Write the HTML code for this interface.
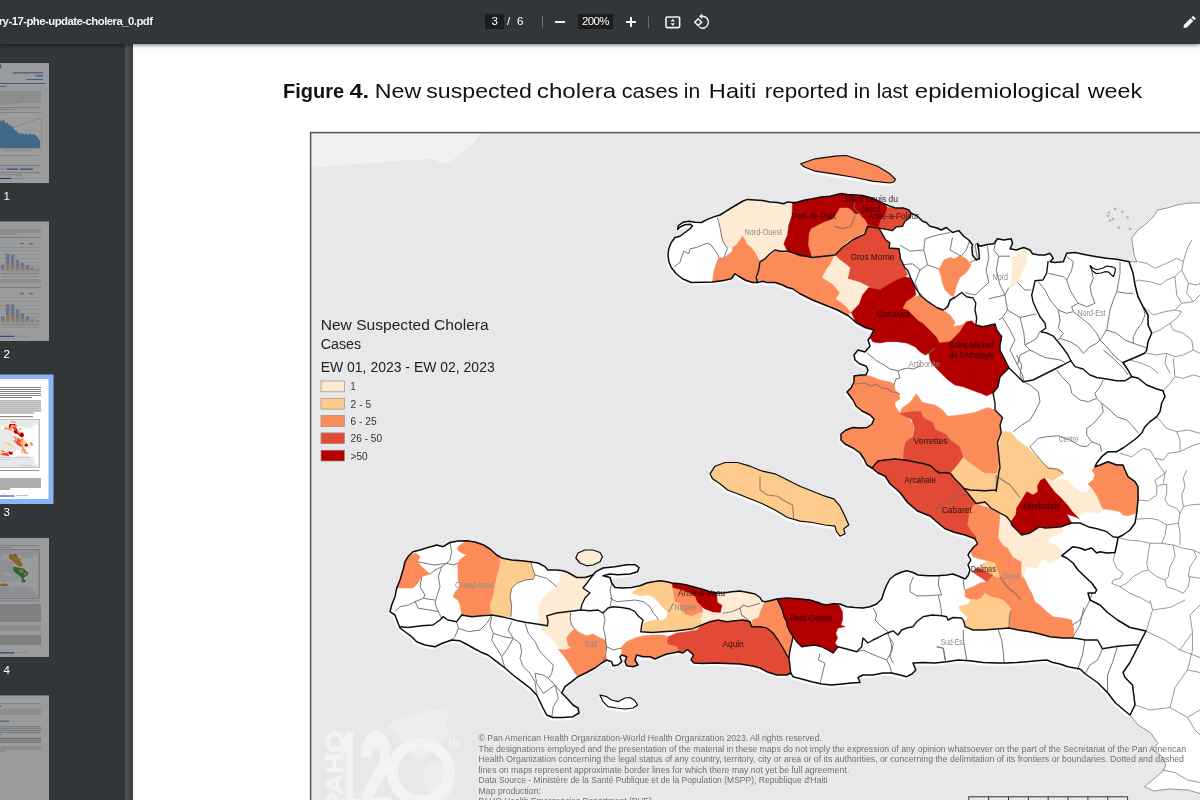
<!DOCTYPE html>
<html lang="en">
<head>
<meta charset="utf-8">
<title>phe-update-cholera_0.pdf</title>
<style>
html,body{margin:0;padding:0;}
body{width:1200px;height:800px;overflow:hidden;position:relative;background:#fff;font-family:"Liberation Sans",sans-serif;}
#content{position:absolute;left:0;top:44px;width:1200px;height:756px;background:#fff;overflow:hidden;}
#sidebar{position:absolute;left:0;top:44px;width:125px;height:756px;background:#323639;overflow:hidden;}
#gutter{position:absolute;left:125px;top:44px;width:8px;height:756px;background:linear-gradient(90deg,#505457 0%,#44484b 60%,#3a3e41 100%);}
#toolbar{position:absolute;left:0;top:0;width:1200px;height:44px;background:#323639;box-shadow:0 1px 4px rgba(0,0,0,.55);color:#fff;z-index:5;}
#toolbar .title{position:absolute;right:1047.5px;top:13px;white-space:nowrap;font-size:11.4px;font-weight:bold;letter-spacing:-0.55px;color:#f1f3f4;line-height:16px;}
.box{position:absolute;background:#1b1d1e;color:#fff;font-size:11.5px;line-height:15px;text-align:center;letter-spacing:-0.6px;}
.tb{position:absolute;color:#fff;font-size:11.5px;line-height:15px;}
.sep{position:absolute;top:16px;width:1px;height:12px;background:#686c6f;}
.thumb{position:absolute;left:0;width:49px;height:120px;background:#fff;overflow:hidden;}
.thumb.dim{opacity:.5}
.tl{position:absolute;left:4px;width:10px;color:#fff;font-size:12px;line-height:14px;}
</style>
</head>
<body>
<div id="content"></div>
<svg width="1200" height="800" viewBox="0 0 1200 800" style="position:absolute;left:0;top:0">
<defs><clipPath id="mc"><rect x="310" y="132" width="900" height="680"/></clipPath><clipPath id="land"><polygon points="668.75,248.75 671.25,242.5 675,237.5 680,236.25 685,232.5 690,228.75 692.5,226 690.5,224.2 685,224.8 680.5,226.8 677.5,229.5 678.5,225.5 683,222.3 689,221.3 695,222.3 701.25,222.5 707.5,219.4 713.75,216.9 720,215 725,211.9 730,208.75 736.25,205 742.5,201.25 747.5,199.4 755,200 762.5,200.6 770,201.9 777.5,202.5 783.75,203.75 787.5,201.9 792.5,202.5 796.2,202.5 805,200 812.5,198.8 821.2,196.9 830,196.2 835,195 841.2,193.5 847.5,194.4 855,195 862.5,195.6 870,197.5 877.5,200.6 883.8,203.8 890,206.2 896.2,208.1 903.8,208.1 908.8,210 911.2,213.1 917.5,216.2 922.5,221.2 926.2,222.5 930,226.2 937,228 941.25,230 946.25,227.5 952.5,232.5 958.75,230.6 963.75,236.25 968.75,240 972.5,245 971.9,247.5 972.5,255 976.25,260 979.4,258.75 978.75,250 977.5,243.75 980,246.25 987.5,244.4 993.75,243.75 997.5,238.75 1003.75,240 1011.25,238.75 1012.5,243.75 1010,248.75 1016.25,250 1023.75,247.5 1030,250 1032.5,253.75 1038.75,255 1045,255 1050,253.3 1053.3,258.3 1050,261.7 1055,262.5 1063.3,261.7 1066.7,253.3 1075,252.5 1086.7,255 1096.7,256.7 1106.7,258.3 1116.7,259.2 1129.2,261.7 1129,261.7 1133,273 1135,285 1138,296.7 1143,306.7 1148,315 1148,325 1151.7,333 1148,341.7 1146.7,350 1145,353 1135,357.5 1123,362.5 1128,370 1131.7,376.7 1138,378 1146.7,385 1156.7,389 1163,390.8 1165,396.7 1161.7,403 1160,411.7 1156.7,416.7 1150,421.7 1145,426.7 1141.7,433 1136.7,438 1130,443 1123,448 1116.7,451.7 1108,451.7 1101.7,456.7 1096.7,463 1095,466.7 1100,465 1108,461.7 1116.7,465 1123,465 1125,470 1128,476.7 1135,481.7 1138,486.7 1138,500 1136.7,513 1135,523 1130,530 1123,535 1118,537.5 1116.7,545 1115,552.5 1106.7,553 1100,551.7 1096.7,553 1091.7,548 1085,550 1080,548 1073,546.7 1066.7,551.7 1061.7,555.8 1066.7,558 1073,563 1078,570 1085,576.7 1091.7,583 1096.7,590 1095,593 1088,593 1090,600 1100,605 1107.5,612.5 1117.5,620 1130,627.5 1146,631 1140,642.5 1135,652.5 1130,662.5 1123,672.5 1125,677.5 1132.5,685 1133.75,695 1135,705 1130,715 1125,711 1115,702.5 1107.5,692.5 1097.5,682.5 1085,673.75 1080,669 1068,666.7 1060,664 1053,662.5 1046.7,660 1036.7,660.8 1026.7,661.7 1016.7,662.5 1006.7,663 996.7,663 983,662.5 970,660.8 958,660 946.7,661.7 935,663 923,662.5 913,663 915.8,670 912,674 906.7,676.7 900,675 891.7,673 883,673 873,675 863,675 858,677.5 860,682.5 851.7,683 841.7,684 831.7,685 821.7,684 811.7,681.7 801.7,679 793,676.7 790.8,673 786.7,675 776.7,675 766.7,671.7 760,668 752.5,666 740,664 727.5,663.5 715,663 702.5,663.5 694,663 691,660 693.5,655 688,650 686.7,650 683,653 678,651.7 673,653 666.7,654 660,656.7 655,659 650,656.7 643,656.7 636.7,655 635,660 638,665 633,666.7 626.7,665.8 625,661.7 626.7,656.7 621.7,655 620,656.7 621.7,661.7 618,665 613,665.8 611.7,661.7 606.7,660 601.7,663 595,668 586.7,672.5 578,676.7 571.7,681.7 565,686.7 561.7,693 566.7,698 573,705 578,708 579,713 573,716.7 563,717.5 553,717.5 546.7,715 543,708 540,701.7 536.7,695 530,688 521.7,681.7 513,675 505,668 496.7,661.7 488,655 480,651.7 475,649 468,645 460,640.8 451.7,640 443,643 435,646.7 425,645 416.7,641.7 411.7,636.7 406.7,633 400,628 398,623 395,615 390,611.7 391.7,605 395,596.7 396.7,588 400,580 403,570 405,561.7 408,556.7 413,551.7 420,550 428,547.5 436.7,545 443,546.7 450,542.5 458,541 466.7,540.8 475,542 483,544.7 490,549 496.7,555 501.7,558 511.7,560 521.7,560.8 530,561.7 538,563 545,566.7 548,570 556.7,570 563,570.8 568,572.5 576.7,577.5 585,577.5 593,575 595.8,571.7 603,568 615,566.7 626.7,564.7 635,564.7 639,567.5 637.5,571.7 630,574 618,574.7 610,574 603,575.8 610,577.5 611.7,583 615,587.5 623,588 631.7,587.5 640,585.8 646.7,583 653,581.7 660,580.8 666.7,581.7 671.7,583 680,583.7 686.7,585 693,586.7 701.7,589 710,591.7 716.7,593 723,593 731.7,591.7 740,591 748,592.5 755,594 760,597.5 762,601 765,601.7 770,600.8 776.7,599 786.7,598 798,598.7 810,600 818,602.5 821.7,604 826.7,605 833,603.7 840,604 846.7,606.7 855,607.5 863,608 870,606.7 876.7,604 881.7,599 884,591.7 886.7,585 890,579 895,575 901.7,572 906.7,570.8 913,572.5 918,575 928,575.8 938,575.8 946.7,575 953,574 960,576.7 965,579 968,575.8 970,570 968,565 970.8,560 968,555 970,551.7 974,546.7 977.5,543.75 975,538.75 965,535 955,532.5 945,528.75 937.5,522.5 930,516 917.5,511 907.5,502.5 900,492.5 890,483.75 885,476 878,473 872,468 867,465 864,459 860,453 853,448 845,444 841,440 841,434 846,430 853,427.5 860,428 867,427.5 872,424 874,419 870,415 862,411 856,406 853,400 850,396 847,392 851,388 854,382 854,376 861,375 866,375 868,370 866,366 860,364 855,360 854,355 858,350 865,352 870,346 868,340 870,337.5 873.75,330 865,327.5 856,322.5 848.75,316 837.5,310 825,305 812.5,300 800,293.75 792.5,288.75 787.5,287.5 782.5,285 775,282.5 767.5,282.5 762.5,281.25 757.5,282.5 752.5,282.5 745,280 738.75,276.25 735,273.75 731.25,278.75 723.75,280.6 712.5,281.9 701.25,282.25 691.25,282.5 682.5,278.75 676.25,273.75 671.25,267.5 668.75,261.25 668,255"/><polygon points="575.8,558 578,553 585,550 593,550 600,552.5 602.5,556.7 600,561.7 593,565 586.7,565.8 580,563"/></clipPath><filter id="halo" x="-5%" y="-5%" width="110%" height="110%"><feGaussianBlur stdDeviation="0.6"/></filter></defs>
<rect x="310" y="132" width="900" height="680" fill="#e8e8eb"/>
<g clip-path="url(#mc)">
<polygon points="310,132 483,132 475,141 466,149.6 457,157 449,162 441,164 437,161 432.5,158.75 395,161 353,164 311,167.5" fill="#f1f1f3"/>
<g filter="url(#halo)" transform="translate(-1.3 2.5)" fill="#fff" stroke="#fff" stroke-width="1" opacity="0.85"><polygon points="668.75,248.75 671.25,242.5 675,237.5 680,236.25 685,232.5 690,228.75 692.5,226 690.5,224.2 685,224.8 680.5,226.8 677.5,229.5 678.5,225.5 683,222.3 689,221.3 695,222.3 701.25,222.5 707.5,219.4 713.75,216.9 720,215 725,211.9 730,208.75 736.25,205 742.5,201.25 747.5,199.4 755,200 762.5,200.6 770,201.9 777.5,202.5 783.75,203.75 787.5,201.9 792.5,202.5 796.2,202.5 805,200 812.5,198.8 821.2,196.9 830,196.2 835,195 841.2,193.5 847.5,194.4 855,195 862.5,195.6 870,197.5 877.5,200.6 883.8,203.8 890,206.2 896.2,208.1 903.8,208.1 908.8,210 911.2,213.1 917.5,216.2 922.5,221.2 926.2,222.5 930,226.2 937,228 941.25,230 946.25,227.5 952.5,232.5 958.75,230.6 963.75,236.25 968.75,240 972.5,245 971.9,247.5 972.5,255 976.25,260 979.4,258.75 978.75,250 977.5,243.75 980,246.25 987.5,244.4 993.75,243.75 997.5,238.75 1003.75,240 1011.25,238.75 1012.5,243.75 1010,248.75 1016.25,250 1023.75,247.5 1030,250 1032.5,253.75 1038.75,255 1045,255 1050,253.3 1053.3,258.3 1050,261.7 1055,262.5 1063.3,261.7 1066.7,253.3 1075,252.5 1086.7,255 1096.7,256.7 1106.7,258.3 1116.7,259.2 1129.2,261.7 1129,261.7 1133,273 1135,285 1138,296.7 1143,306.7 1148,315 1148,325 1151.7,333 1148,341.7 1146.7,350 1145,353 1135,357.5 1123,362.5 1128,370 1131.7,376.7 1138,378 1146.7,385 1156.7,389 1163,390.8 1165,396.7 1161.7,403 1160,411.7 1156.7,416.7 1150,421.7 1145,426.7 1141.7,433 1136.7,438 1130,443 1123,448 1116.7,451.7 1108,451.7 1101.7,456.7 1096.7,463 1095,466.7 1100,465 1108,461.7 1116.7,465 1123,465 1125,470 1128,476.7 1135,481.7 1138,486.7 1138,500 1136.7,513 1135,523 1130,530 1123,535 1118,537.5 1116.7,545 1115,552.5 1106.7,553 1100,551.7 1096.7,553 1091.7,548 1085,550 1080,548 1073,546.7 1066.7,551.7 1061.7,555.8 1066.7,558 1073,563 1078,570 1085,576.7 1091.7,583 1096.7,590 1095,593 1088,593 1090,600 1100,605 1107.5,612.5 1117.5,620 1130,627.5 1146,631 1140,642.5 1135,652.5 1130,662.5 1123,672.5 1125,677.5 1132.5,685 1133.75,695 1135,705 1130,715 1125,711 1115,702.5 1107.5,692.5 1097.5,682.5 1085,673.75 1080,669 1068,666.7 1060,664 1053,662.5 1046.7,660 1036.7,660.8 1026.7,661.7 1016.7,662.5 1006.7,663 996.7,663 983,662.5 970,660.8 958,660 946.7,661.7 935,663 923,662.5 913,663 915.8,670 912,674 906.7,676.7 900,675 891.7,673 883,673 873,675 863,675 858,677.5 860,682.5 851.7,683 841.7,684 831.7,685 821.7,684 811.7,681.7 801.7,679 793,676.7 790.8,673 786.7,675 776.7,675 766.7,671.7 760,668 752.5,666 740,664 727.5,663.5 715,663 702.5,663.5 694,663 691,660 693.5,655 688,650 686.7,650 683,653 678,651.7 673,653 666.7,654 660,656.7 655,659 650,656.7 643,656.7 636.7,655 635,660 638,665 633,666.7 626.7,665.8 625,661.7 626.7,656.7 621.7,655 620,656.7 621.7,661.7 618,665 613,665.8 611.7,661.7 606.7,660 601.7,663 595,668 586.7,672.5 578,676.7 571.7,681.7 565,686.7 561.7,693 566.7,698 573,705 578,708 579,713 573,716.7 563,717.5 553,717.5 546.7,715 543,708 540,701.7 536.7,695 530,688 521.7,681.7 513,675 505,668 496.7,661.7 488,655 480,651.7 475,649 468,645 460,640.8 451.7,640 443,643 435,646.7 425,645 416.7,641.7 411.7,636.7 406.7,633 400,628 398,623 395,615 390,611.7 391.7,605 395,596.7 396.7,588 400,580 403,570 405,561.7 408,556.7 413,551.7 420,550 428,547.5 436.7,545 443,546.7 450,542.5 458,541 466.7,540.8 475,542 483,544.7 490,549 496.7,555 501.7,558 511.7,560 521.7,560.8 530,561.7 538,563 545,566.7 548,570 556.7,570 563,570.8 568,572.5 576.7,577.5 585,577.5 593,575 595.8,571.7 603,568 615,566.7 626.7,564.7 635,564.7 639,567.5 637.5,571.7 630,574 618,574.7 610,574 603,575.8 610,577.5 611.7,583 615,587.5 623,588 631.7,587.5 640,585.8 646.7,583 653,581.7 660,580.8 666.7,581.7 671.7,583 680,583.7 686.7,585 693,586.7 701.7,589 710,591.7 716.7,593 723,593 731.7,591.7 740,591 748,592.5 755,594 760,597.5 762,601 765,601.7 770,600.8 776.7,599 786.7,598 798,598.7 810,600 818,602.5 821.7,604 826.7,605 833,603.7 840,604 846.7,606.7 855,607.5 863,608 870,606.7 876.7,604 881.7,599 884,591.7 886.7,585 890,579 895,575 901.7,572 906.7,570.8 913,572.5 918,575 928,575.8 938,575.8 946.7,575 953,574 960,576.7 965,579 968,575.8 970,570 968,565 970.8,560 968,555 970,551.7 974,546.7 977.5,543.75 975,538.75 965,535 955,532.5 945,528.75 937.5,522.5 930,516 917.5,511 907.5,502.5 900,492.5 890,483.75 885,476 878,473 872,468 867,465 864,459 860,453 853,448 845,444 841,440 841,434 846,430 853,427.5 860,428 867,427.5 872,424 874,419 870,415 862,411 856,406 853,400 850,396 847,392 851,388 854,382 854,376 861,375 866,375 868,370 866,366 860,364 855,360 854,355 858,350 865,352 870,346 868,340 870,337.5 873.75,330 865,327.5 856,322.5 848.75,316 837.5,310 825,305 812.5,300 800,293.75 792.5,288.75 787.5,287.5 782.5,285 775,282.5 767.5,282.5 762.5,281.25 757.5,282.5 752.5,282.5 745,280 738.75,276.25 735,273.75 731.25,278.75 723.75,280.6 712.5,281.9 701.25,282.25 691.25,282.5 682.5,278.75 676.25,273.75 671.25,267.5 668.75,261.25 668,255"/><polygon points="710,473.8 715,466.2 725,462.5 737.5,462.5 750,466.2 762.5,471.2 775,473.8 787.5,480 800,486.2 812.5,491.2 825,496.2 833.8,498.8 840,506.2 845,516.2 848.8,525 843.8,528.8 845,533.8 840,536.2 836.2,531.2 835,526.2 825,525 812.5,522.5 800,521.2 787.5,517.5 775,510 762.5,503.8 750,498.8 737.5,493.8 727.5,490 720,483.8 712.5,478.8"/><polygon points="800.8,163.8 815,158.8 835,156.2 846.2,155.5 860,160 877.5,166.2 890,173.8 895.5,179.5 893.8,182 890,183 872.5,181.2 855,177.5 835,174.2 815,171.2 803.8,166.8"/><polygon points="600,695 606.7,696.7 611.7,700 618,701.7 625,698 630,697.5 635,700.8 637.5,705 633,708 625,709 616.7,708 608,706.7 603,701.7"/></g>
<g id="mapcore">
<g id="landcore">
<polygon points="1129,261.7 1137,262 1134,255 1133,247 1131.7,238 1138,230 1147,223 1153,217 1158,210 1167,208 1177,205 1188,203 1210,203 1210,794 1200,793.5 1187.7,790 1169,789 1153.8,791 1144.5,786.7 1153.8,779 1163,771 1166,765 1161.5,755.8 1152,749.7 1158,743.5 1150.7,732.7 1138,725 1130,715 1135,705 1133.75,695 1132.5,685 1125,677.5 1123,672.5 1130,662.5 1135,652.5 1140,642.5 1146,631 1130,627.5 1117.5,620 1107.5,612.5 1100,605 1090,600 1088,593 1095,593 1096.7,590 1091.7,583 1085,576.7 1078,570 1073,563 1066.7,558 1061.7,555.8 1066.7,551.7 1073,546.7 1080,548 1085,550 1091.7,548 1096.7,553 1100,551.7 1106.7,553 1115,552.5 1116.7,545 1118,537.5 1123,535 1130,530 1135,523 1136.7,513 1138,500 1138,486.7 1135,481.7 1128,476.7 1125,470 1123,465 1116.7,465 1108,461.7 1100,465 1095,466.7 1096.7,463 1101.7,456.7 1108,451.7 1116.7,451.7 1123,448 1130,443 1136.7,438 1141.7,433 1145,426.7 1150,421.7 1156.7,416.7 1160,411.7 1161.7,403 1165,396.7 1163,390.8 1156.7,389 1146.7,385 1138,378 1131.7,376.7 1128,370 1123,362.5 1135,357.5 1145,353 1146.7,350 1148,341.7 1151.7,333 1148,325 1148,315 1143,306.7 1138,296.7 1135,285 1133,273 1129,261.7" fill="#fff" stroke="#8a8a8a" stroke-width="0.9" stroke-linejoin="round"/>
<polygon points="668.75,248.75 671.25,242.5 675,237.5 680,236.25 685,232.5 690,228.75 692.5,226 690.5,224.2 685,224.8 680.5,226.8 677.5,229.5 678.5,225.5 683,222.3 689,221.3 695,222.3 701.25,222.5 707.5,219.4 713.75,216.9 720,215 725,211.9 730,208.75 736.25,205 742.5,201.25 747.5,199.4 755,200 762.5,200.6 770,201.9 777.5,202.5 783.75,203.75 787.5,201.9 792.5,202.5 796.2,202.5 805,200 812.5,198.8 821.2,196.9 830,196.2 835,195 841.2,193.5 847.5,194.4 855,195 862.5,195.6 870,197.5 877.5,200.6 883.8,203.8 890,206.2 896.2,208.1 903.8,208.1 908.8,210 911.2,213.1 917.5,216.2 922.5,221.2 926.2,222.5 930,226.2 937,228 941.25,230 946.25,227.5 952.5,232.5 958.75,230.6 963.75,236.25 968.75,240 972.5,245 971.9,247.5 972.5,255 976.25,260 979.4,258.75 978.75,250 977.5,243.75 980,246.25 987.5,244.4 993.75,243.75 997.5,238.75 1003.75,240 1011.25,238.75 1012.5,243.75 1010,248.75 1016.25,250 1023.75,247.5 1030,250 1032.5,253.75 1038.75,255 1045,255 1050,253.3 1053.3,258.3 1050,261.7 1055,262.5 1063.3,261.7 1066.7,253.3 1075,252.5 1086.7,255 1096.7,256.7 1106.7,258.3 1116.7,259.2 1129.2,261.7 1129,261.7 1133,273 1135,285 1138,296.7 1143,306.7 1148,315 1148,325 1151.7,333 1148,341.7 1146.7,350 1145,353 1135,357.5 1123,362.5 1128,370 1131.7,376.7 1138,378 1146.7,385 1156.7,389 1163,390.8 1165,396.7 1161.7,403 1160,411.7 1156.7,416.7 1150,421.7 1145,426.7 1141.7,433 1136.7,438 1130,443 1123,448 1116.7,451.7 1108,451.7 1101.7,456.7 1096.7,463 1095,466.7 1100,465 1108,461.7 1116.7,465 1123,465 1125,470 1128,476.7 1135,481.7 1138,486.7 1138,500 1136.7,513 1135,523 1130,530 1123,535 1118,537.5 1116.7,545 1115,552.5 1106.7,553 1100,551.7 1096.7,553 1091.7,548 1085,550 1080,548 1073,546.7 1066.7,551.7 1061.7,555.8 1066.7,558 1073,563 1078,570 1085,576.7 1091.7,583 1096.7,590 1095,593 1088,593 1090,600 1100,605 1107.5,612.5 1117.5,620 1130,627.5 1146,631 1140,642.5 1135,652.5 1130,662.5 1123,672.5 1125,677.5 1132.5,685 1133.75,695 1135,705 1130,715 1125,711 1115,702.5 1107.5,692.5 1097.5,682.5 1085,673.75 1080,669 1068,666.7 1060,664 1053,662.5 1046.7,660 1036.7,660.8 1026.7,661.7 1016.7,662.5 1006.7,663 996.7,663 983,662.5 970,660.8 958,660 946.7,661.7 935,663 923,662.5 913,663 915.8,670 912,674 906.7,676.7 900,675 891.7,673 883,673 873,675 863,675 858,677.5 860,682.5 851.7,683 841.7,684 831.7,685 821.7,684 811.7,681.7 801.7,679 793,676.7 790.8,673 786.7,675 776.7,675 766.7,671.7 760,668 752.5,666 740,664 727.5,663.5 715,663 702.5,663.5 694,663 691,660 693.5,655 688,650 686.7,650 683,653 678,651.7 673,653 666.7,654 660,656.7 655,659 650,656.7 643,656.7 636.7,655 635,660 638,665 633,666.7 626.7,665.8 625,661.7 626.7,656.7 621.7,655 620,656.7 621.7,661.7 618,665 613,665.8 611.7,661.7 606.7,660 601.7,663 595,668 586.7,672.5 578,676.7 571.7,681.7 565,686.7 561.7,693 566.7,698 573,705 578,708 579,713 573,716.7 563,717.5 553,717.5 546.7,715 543,708 540,701.7 536.7,695 530,688 521.7,681.7 513,675 505,668 496.7,661.7 488,655 480,651.7 475,649 468,645 460,640.8 451.7,640 443,643 435,646.7 425,645 416.7,641.7 411.7,636.7 406.7,633 400,628 398,623 395,615 390,611.7 391.7,605 395,596.7 396.7,588 400,580 403,570 405,561.7 408,556.7 413,551.7 420,550 428,547.5 436.7,545 443,546.7 450,542.5 458,541 466.7,540.8 475,542 483,544.7 490,549 496.7,555 501.7,558 511.7,560 521.7,560.8 530,561.7 538,563 545,566.7 548,570 556.7,570 563,570.8 568,572.5 576.7,577.5 585,577.5 593,575 595.8,571.7 603,568 615,566.7 626.7,564.7 635,564.7 639,567.5 637.5,571.7 630,574 618,574.7 610,574 603,575.8 610,577.5 611.7,583 615,587.5 623,588 631.7,587.5 640,585.8 646.7,583 653,581.7 660,580.8 666.7,581.7 671.7,583 680,583.7 686.7,585 693,586.7 701.7,589 710,591.7 716.7,593 723,593 731.7,591.7 740,591 748,592.5 755,594 760,597.5 762,601 765,601.7 770,600.8 776.7,599 786.7,598 798,598.7 810,600 818,602.5 821.7,604 826.7,605 833,603.7 840,604 846.7,606.7 855,607.5 863,608 870,606.7 876.7,604 881.7,599 884,591.7 886.7,585 890,579 895,575 901.7,572 906.7,570.8 913,572.5 918,575 928,575.8 938,575.8 946.7,575 953,574 960,576.7 965,579 968,575.8 970,570 968,565 970.8,560 968,555 970,551.7 974,546.7 977.5,543.75 975,538.75 965,535 955,532.5 945,528.75 937.5,522.5 930,516 917.5,511 907.5,502.5 900,492.5 890,483.75 885,476 878,473 872,468 867,465 864,459 860,453 853,448 845,444 841,440 841,434 846,430 853,427.5 860,428 867,427.5 872,424 874,419 870,415 862,411 856,406 853,400 850,396 847,392 851,388 854,382 854,376 861,375 866,375 868,370 866,366 860,364 855,360 854,355 858,350 865,352 870,346 868,340 870,337.5 873.75,330 865,327.5 856,322.5 848.75,316 837.5,310 825,305 812.5,300 800,293.75 792.5,288.75 787.5,287.5 782.5,285 775,282.5 767.5,282.5 762.5,281.25 757.5,282.5 752.5,282.5 745,280 738.75,276.25 735,273.75 731.25,278.75 723.75,280.6 712.5,281.9 701.25,282.25 691.25,282.5 682.5,278.75 676.25,273.75 671.25,267.5 668.75,261.25 668,255" fill="#fff"/>
<polygon points="800.8,163.8 815,158.8 835,156.2 846.2,155.5 860,160 877.5,166.2 890,173.8 895.5,179.5 893.8,182 890,183 872.5,181.2 855,177.5 835,174.2 815,171.2 803.8,166.8" fill="#fff"/>
<polygon points="710,473.8 715,466.2 725,462.5 737.5,462.5 750,466.2 762.5,471.2 775,473.8 787.5,480 800,486.2 812.5,491.2 825,496.2 833.8,498.8 840,506.2 845,516.2 848.8,525 843.8,528.8 845,533.8 840,536.2 836.2,531.2 835,526.2 825,525 812.5,522.5 800,521.2 787.5,517.5 775,510 762.5,503.8 750,498.8 737.5,493.8 727.5,490 720,483.8 712.5,478.8" fill="#fff"/>
<polygon points="600,695 606.7,696.7 611.7,700 618,701.7 625,698 630,697.5 635,700.8 637.5,705 633,708 625,709 616.7,708 608,706.7 603,701.7" fill="#fff"/>
<polygon points="575.8,558 578,553 585,550 593,550 600,552.5 602.5,556.7 600,561.7 593,565 586.7,565.8 580,563" fill="#fff"/>
<polygon points="1090,265.5 1093,268.2 1097,269.8 1103,268 1107,266 1112,266.8 1115.5,268.5 1115,272 1113.5,276.5 1111,274.5 1109,272.2 1105,271.7 1101,273 1096,273.6 1093,271.3 1091,268.5" fill="#fff"/>
</g>
<g clip-path="url(#land)">
<polygon points="717.5,218 720,215 725,211.9 730,208.75 736.25,205 742.5,201.25 747.5,199.4 755,200 762.5,200.6 770,201.9 777.5,202.5 783.75,203.75 787.5,201.9 792.5,202.5 792.5,210 790.6,216.25 787.5,223.75 787.5,231.25 786.25,237.5 783.75,242.5 785,247.5 787.5,251.25 780,251.25 775,250 770,253.75 765,258.75 760,261.9 757.5,257.5 755,252.5 751.25,247.5 747.5,245 745,240 742.5,236.25 740,240 736.25,245 732.5,247.5 727.5,248 725,245 722.5,240 721.25,233.75 720,227.5 718.75,222.5" fill="#fdebd3" stroke="#fdebd3" stroke-width="0.5" stroke-linejoin="round"/>
<polygon points="742.5,236.25 745,240 747.5,245 751.25,247.5 755,252.5 757.5,257.5 760,261.9 758.75,267.5 757.5,272.5 756.25,277.5 758.75,280 757.5,284 752.5,284 745,282 738.75,278 735,273.75 731.25,279.5 723.75,282 712.5,282 713.75,271.25 716.25,263.75 718.75,257.5 723.75,258 727.5,255 732.5,251.25 732.5,247.5 736.25,245 740,240" fill="#fb8c59" stroke="#fb8c59" stroke-width="0.5" stroke-linejoin="round"/>
<polygon points="761.2,261.2 767.5,257.5 775,251.2 787.5,252.5 800,256.2 812.5,257.5 835,254.8 832.5,260 830,265 826.2,270 822.5,277.5 832.5,283.8 840,292.5 836.2,298.8 845,305 851.2,312.5 846.2,316.2 830,308.8 810,298.8 795,291.2 780,286.2 767.5,281.2 757.5,280 758.8,270" fill="#fb8c59" stroke="#fb8c59" stroke-width="0.5" stroke-linejoin="round"/>
<polygon points="792.5,202.5 805,199.8 812.5,198.5 821.2,196.6 830,196 835,194.8 841.2,193.2 847.5,194.1 855,194.8 862.5,195.4 870,197.2 877.5,200.4 883.8,203.5 887.5,207.5 886.2,212.5 882.5,217.5 880,222.5 878.8,228.1 873.8,226.9 867.5,225 865,220 861.2,216.2 860,213.8 855,214.4 851.2,210 847.5,208.1 840,208.1 837.5,212.5 835,216.2 831.2,220 825,221.9 818.8,225 812.5,228.8 810,235 810.6,241.2 811.2,245 812.5,257 800,256.2 787.5,251.2 783.8,243.8 787.5,235 788.8,225 792,215" fill="#b20000" stroke="#b20000" stroke-width="0.5" stroke-linejoin="round"/>
<polygon points="887.5,207.5 896.2,208.1 903.8,208.1 908.8,210 911.2,213.1 910,217.5 905,221.2 902.5,226.2 896.2,226.9 892.5,230.6 886.2,229.4 878.8,228.1 880,222.5 882.5,217.5 886.2,212.5" fill="#e24a35" stroke="#e24a35" stroke-width="0.5" stroke-linejoin="round"/>
<polygon points="840,208.1 847.5,208.1 851.2,210 855,214.4 860,213.8 861.2,216.2 865,220 867.5,225 866.2,231.2 857.5,236.2 850,240 845,243.8 835,255 812,257 808.5,245 809.2,233.8 811.2,228.8 818.8,225 825,221.9 831.2,220 835,216.2 837.5,212.5" fill="#fb8c59" stroke="#fb8c59" stroke-width="0.5" stroke-linejoin="round"/>
<polygon points="879.5,228 885.8,240 889.8,242.8 889,248 899,248.8 900.5,258.8 905,268 907.5,275 900,278.8 892.5,285 880,290 870,287.5 860,282.5 847.5,278.8 850,267.5 840,260 835,255 842.5,247.5 852.5,240 865,233.8 867.5,225" fill="#e24a35" stroke="#e24a35" stroke-width="0.5" stroke-linejoin="round"/>
<polygon points="832.5,260 834.5,254.8 840,260 850,267.5 847.5,278.8 860,282.5 870,287.5 868.8,295 862.5,302.5 860,312.5 851.2,312.5 845,305 836.2,298.8 840,292.5 832.5,283.8 822.5,277.5 826.2,270 830,265" fill="#fdebd3" stroke="#fdebd3" stroke-width="0.5" stroke-linejoin="round"/>
<polygon points="870,337.5 873.75,330 865,327.5 856,322.5 851.25,312.5 859.4,304 862.5,295 868.75,287.5 880,290 888,285 896.7,280 905,276.7 910.8,278 915,286.7 915.8,295 906.7,301.7 903,308 908,310 913,315 918,320 923,323 930,330 936.7,336.7 940,343 935,348 929,353 925,355 920,351.7 915,346.7 906.7,343 896.7,341.7 886.7,341.7 880,343 873,342" fill="#b20000" stroke="#b20000" stroke-width="0.5" stroke-linejoin="round"/>
<polygon points="906.7,301.7 915,296.7 920,295 928,301.7 936.7,307.5 943,310 950,315 955,321.7 953,326.7 961.7,325 966.7,321.7 963,326.7 960,331.7 955,336.7 950,341.7 940,343 936.7,336.7 930,330 923,323 918,320 913,315 908,310 903,308" fill="#fb8c59" stroke="#fb8c59" stroke-width="0.5" stroke-linejoin="round"/>
<polygon points="966.7,321.7 971.7,320.8 975.8,325 983,326.7 995,324 996.7,330 1001.7,336.7 1000,345 1000,350 1005,360 1009,368 1000,376.7 998,386.7 993,393 986.7,395.8 980,393 971.7,390 963,386.7 955,385 948,380 943,375 938,370 933,365 930,360 929,353 935,348 940,343 950,341.7 955,336.7 960,331.7 963,326.7" fill="#b20000" stroke="#b20000" stroke-width="0.5" stroke-linejoin="round"/>
<polygon points="938.75,270 943.75,260 950,257.5 955,258.75 960,255.6 966.25,258.75 971.25,265 966.25,272.5 960,277.5 956.25,286.25 953.75,296.25 950,295 945,290 942.5,283 941.25,277" fill="#fb8c59" stroke="#fb8c59" stroke-width="0.5" stroke-linejoin="round"/>
<polygon points="1010,257.5 1020,253.75 1023.75,248.75 1027.5,252.5 1026.25,262.5 1022.5,271.25 1017.5,282.5 1010,288.75 1011.25,281.25 1012.5,270 1012.5,262.5" fill="#fdebd3" stroke="#fdebd3" stroke-width="0.5" stroke-linejoin="round"/>
<polygon points="861,375 870,376 880,380 890,382 894,384 895,390 899,394 900,399 895,402 895,406 899,412 907.5,417.5 913.8,425 912.5,435 905,442.5 902.5,458.8 895,462.5 877.5,465.5 872.5,468 867,465 864,459 860,453 853,448 845,444 841,440 841,434 846,430 853,427.5 860,428 867,427.5 872,424 874,419 870,415 862,411 856,406 853,400 850,396 847,392 851,388 854,382 854,376" fill="#fb8c59" stroke="#fb8c59" stroke-width="0.5" stroke-linejoin="round"/>
<polygon points="916.2,393.8 922.5,402.5 935,405 942.5,410 947.5,416.2 960,415 975,412.5 987.5,407.5 995,410 1002.5,417.5 1000,425 1001.2,432.5 997.5,442.5 998.8,455 1000,467.5 997,474.5 985,474 976,468 970,463.5 963.2,457.8 960,450 950,442.5 940,440 936.2,430 930,422.5 922.5,420 920,412.5 912.5,415 905,413.8 900,412.5 902.5,407.5 910,402.5" fill="#fb8c59" stroke="#fb8c59" stroke-width="0.5" stroke-linejoin="round"/>
<polygon points="899.5,413.5 910,412 920.5,411.25 923.5,418 932.5,422.5 935.5,430 946,434.5 950.5,440.5 959.5,446.5 963.25,457.75 958,464.5 950.5,474.5 940,474.5 929.5,468 917.5,465 902.5,463 904,449.5 905.5,442 913,436 914.5,427 911.5,419.5" fill="#e24a35" stroke="#e24a35" stroke-width="0.5" stroke-linejoin="round"/>
<polygon points="1002.5,431.2 1011.2,432.5 1017.5,440 1027.5,447.5 1035,455 1042.5,462.5 1050,467.5 1060,468.8 1063.8,473.8 1055,478.8 1050,483.8 1046.2,490 1041.2,500 1031.2,502.5 1026.2,510 1020,518.8 1010,520 1000,512.5 988.8,505 980,503.8 974,507 967.5,497.5 962.5,490 956,478.5 950.5,473.5 958,464.5 963.2,457.5 970,463 976,467.5 985,473.5 997,473.5 1000,460 998.8,447.5" fill="#fdcb8b" stroke="#fdcb8b" stroke-width="0.5" stroke-linejoin="round"/>
<polygon points="1040.8,480 1045,478 1050,485 1055,491.7 1061.7,498 1068,505 1073,511.7 1080,519 1075,516.7 1066.7,514 1070,520 1071.7,523 1061.7,526.7 1053,527.5 1045,528 1040,526.7 1030,533 1021.7,535 1011.7,525 1010.8,521.7 1015.8,515 1016.7,508 1021.7,500 1026.7,491.7 1033,495 1038,491.7 1037.5,485.8" fill="#b20000" stroke="#b20000" stroke-width="0.5" stroke-linejoin="round"/>
<polygon points="1055,481.7 1061.7,479 1068,480.8 1073,486.7 1080,491.7 1086.7,492.5 1090.8,488 1096.7,495 1100,503 1103,509 1100,513 1093,512.5 1086.7,511.7 1080,515 1080,519 1073,511.7 1068,505 1061.7,498 1055,491.7 1050,485 1045,478" fill="#fdebd3" stroke="#fdebd3" stroke-width="0.5" stroke-linejoin="round"/>
<polygon points="1095,466.7 1100,465 1108,461.7 1116.7,465 1123,465 1125,470 1128,476.7 1135,481.7 1138,486.7 1138,500 1136.7,513 1128,515.8 1123,515 1120,511.7 1113,510 1103,509 1100,503 1096.7,495 1091.7,488 1088,484 1093,480 1095,475 1092,470" fill="#fb8c59" stroke="#fb8c59" stroke-width="0.5" stroke-linejoin="round"/>
<polygon points="872,468 878,461 885,460 895,459 905,460 915,462 925,464 931,466 936,471 940,473 945,472.5 950.5,473.5 955,479 960,484 964,488.5 970,496 976,503.5 973.8,507.5 968.8,517.5 971.2,525 975,532.5 977.5,537.5 975,539.5 965,535.8 955,533.2 945,529.5 937.5,523.2 930,517 917.5,512 907.5,503.2 900,493.2 890,484.5 880,475.8" fill="#e24a35" stroke="#e24a35" stroke-width="0.5" stroke-linejoin="round"/>
<polygon points="976.7,538 974,546.7 970.8,553 973,556.7 980,559 986.7,560.8 995,563 996.7,570 1000,576.7 996.7,577.5 993,575 990,578 986.7,581.7 980,583 973,586.7 965,590 965,596.7 970,599 976.7,600 981.7,598 985,593 990,596.7 996.7,598 1003,600 1008,605 1011.7,610 1010,613 1009,620 1009,628 1018,630 1030,631.7 1040,634 1050,636.7 1063,638 1073,638 1074,630 1071.7,620 1063,618 1053,616.7 1046.7,611.7 1041.7,606.7 1035,601.7 1031.7,593 1028,586.7 1025,580 1021.7,573 1021.7,561.7 1013,556.7 1008,548 1003,545 1000,538 1002.5,520 1000,512.5 988.8,507.5 975,503.8 970,510 968.8,517.5 967.5,525 972.5,532.5 976.2,536.2" fill="#fb8c59" stroke="#fb8c59" stroke-width="0.5" stroke-linejoin="round"/>
<polygon points="980,565 986.7,561.7 995,563 996.7,570 1000,576.7 996.7,577.5 993,575 988,572.5 983,570" fill="#fdcb8b" stroke="#fdcb8b" stroke-width="0.5" stroke-linejoin="round"/>
<polygon points="972.5,571.7 976.7,568 983,570 988,572.5 993,575 990,578 986.7,581.7 981.7,578 976.7,575" fill="#e24a35" stroke="#e24a35" stroke-width="0.5" stroke-linejoin="round"/>
<polygon points="959,606.7 965,605 970,603 970,599 976.7,600 981.7,598 985,593 990,596.7 996.7,598 1003,600 1008,605 1011.7,610 1010,613 1009,620 1009,628 996.7,629 983,630 973,630 965,626.7 964,621.7 968,618 963,613 960,610" fill="#fdcb8b" stroke="#fdcb8b" stroke-width="0.5" stroke-linejoin="round"/>
<polygon points="1000,520 1000,513 1006.7,516.7 1010.8,521.7 1011.7,525 1021.7,535 1030,533 1040,526.7 1045,528 1053,527.5 1061.7,526.7 1063,531.7 1056.7,535 1050,538 1048,541.7 1055,545 1061.7,550 1063,555 1056.7,560 1050,563 1041.7,558 1040,563 1038,568 1026.7,566.7 1025,573 1023,578 1021.7,573 1021.7,561.7 1013,556.7 1008,548 1003,545 998.5,538" fill="#fdebd3" stroke="#fdebd3" stroke-width="0.5" stroke-linejoin="round"/>
<polygon points="405,561.7 408,556.7 415.8,553 420,556.7 417.5,561.7 421.7,566.7 430,574 421.7,576.7 418,583 413,588 398,588 395,588 398,580 401,570" fill="#fb8c59" stroke="#fb8c59" stroke-width="0.5" stroke-linejoin="round"/>
<polygon points="458,546.7 466.7,540.5 475,541 483,543.7 490,548 496.7,554 500.8,560.8 499,570 496.7,578 495,586.7 493,596.7 490,605 491.7,613 481.7,615.8 471.7,616.7 461.7,615 460,605 458,600 453,596.7 455,591.7 460,586.7 458,580 458,571.7 457.5,563 461.7,558 466.7,555 461.7,553 457.5,550" fill="#fb8c59" stroke="#fb8c59" stroke-width="0.5" stroke-linejoin="round"/>
<polygon points="500.8,560.8 501.7,557 511.7,559.5 521.7,560.3 530.8,561.2 532.5,568 535,575 533,579 525,580 516.7,583 511.7,588 510,596.7 511.7,605 510.8,616.7 501.7,616.7 491.7,615 490,605 493,596.7 495,586.7 496.7,578 499,570" fill="#fdcb8b" stroke="#fdcb8b" stroke-width="0.5" stroke-linejoin="round"/>
<polygon points="563,570.3 568,572 576.7,577 585,577 593,574.5 588,581.7 583,588 590,593 585,598 581.7,605 580.8,609 566.7,611.7 556.7,613 546.7,615.8 548,620.8 547.5,625.8 538.3,624.2 539,617 538.3,608 541.7,600 548,593 556.7,586.7 560,578" fill="#fdebd3" stroke="#fdebd3" stroke-width="0.5" stroke-linejoin="round"/>
<polygon points="540,625 547.5,625.8 548,620.8 546.7,615.8 556.7,613 566.7,611.7 570.8,612.5 570,618 571.7,625 575,629 570,633 566.7,638 568,645 570.8,648 565,650 560,648 555,643 551.7,638 546.7,635 541.7,630" fill="#fdebd3" stroke="#fdebd3" stroke-width="0.5" stroke-linejoin="round"/>
<polygon points="575.8,558 578,553 585,550 593,550 600,552.5 602.5,556.7 600,561.7 593,565 586.7,565.8 580,563" fill="#fdebd3" stroke="#fdebd3" stroke-width="0.5" stroke-linejoin="round"/>
<polygon points="575,629 580,633 586.7,635.8 593,634 600,638 605.8,640 606.7,646.7 605,653 606.7,659 601.7,664 595,669 586.7,673.5 578,677.5 573,670 568,661.7 563,655 558,649 565,650 570.8,648 568,645 566.7,638 570,633" fill="#fb8c59" stroke="#fb8c59" stroke-width="0.5" stroke-linejoin="round"/>
<polygon points="631.7,593 638,588 646.7,583.2 653,581.2 660,580.3 666.7,581.2 671.7,583 673,588 674,595 675,601.7 680,603 681.7,610 685,614 691.7,615.8 698,613 703,611.7 701.7,618 701.7,625 693,628 683,630 675,630.8 663,631 651.7,631.7 641.7,631.7 642.5,625 646.7,621.7 655,620 661.7,620.8 666.7,618 668,611.7 663,608 658,601.7 653,596.7 648,595 640,595.8" fill="#fdcb8b" stroke="#fdcb8b" stroke-width="0.5" stroke-linejoin="round"/>
<polygon points="671.7,582.5 680,583.2 686.7,584.5 693,586.2 701.7,588.5 710,591.2 716.7,592.5 717.5,598 718,602.5 722.5,605 720.8,613 713,612.5 706.7,610 701.7,606.7 696.7,601.7 695,596.7 690,593 683,590.8 676.7,589 673,588" fill="#b20000" stroke="#b20000" stroke-width="0.5" stroke-linejoin="round"/>
<polygon points="673,588 676.7,589 683,590.8 690,593 695,596.7 696.7,601.7 701.7,606.7 703,611.7 698,613 691.7,615.8 685,614 681.7,610 680,603 675,601.7 674,595" fill="#fb8c59" stroke="#fb8c59" stroke-width="0.5" stroke-linejoin="round"/>
<polygon points="716.7,592.5 723,592.5 731.7,591.2 740,590.5 748,592 755,593.5 760,597 762,601 765,602 761,610 758.75,617.5 752.5,620 751.7,626.7 750,621.7 743,620 735,620.8 726.7,621.7 718,620 710,621.7 701.7,625 701.7,618 703,611.7 706.7,610 713,612.5 720.8,613 722.5,605 718,602.5 717.5,598" fill="#fdebd3" stroke="#fdebd3" stroke-width="0.5" stroke-linejoin="round"/>
<polygon points="762,601 765,601.7 770,600.3 777.5,599.5 780,605 782.5,610 784,616.7 786.7,621.7 787.5,626.7 790,631.7 793,636.7 791.7,643 790,650 789,658 786.7,655 783,648 778,640 773,633 766.7,628 760,626.7 751.7,626.7 752.5,620 758.75,617.5 761,610 765,602" fill="#fb8c59" stroke="#fb8c59" stroke-width="0.5" stroke-linejoin="round"/>
<polygon points="668,636.7 676.7,633 686.7,631.7 696.7,630 701.7,625 710,621.7 718,620 726.7,621.7 735,620.8 743,620 750,621.7 751.7,626.7 760,626.7 766.7,628 773,633 778,640 783,648 786.7,655 789,658 790,666.7 790.8,673.5 786.7,675.5 776.7,675.5 766.7,672.2 760,668.5 752.5,666.5 740,664.5 727.5,664 715,663.5 702.5,664 694,663.5 691,660 693.5,655 688,650 686.7,650 683,653 678,651.7 676.7,646.7 668,645 666.7,641.7" fill="#e24a35" stroke="#e24a35" stroke-width="0.5" stroke-linejoin="round"/>
<polygon points="621.7,646.7 626.7,641.7 635,638 643,635.8 653,635 663,635 668,636.7 666.7,641.7 668,645 676.7,646.7 678,651.7 673,653.5 666.7,654.5 660,657.2 655,659.5 650,657.2 643,657.2 636.7,655.5 635,660 638,665.5 633,667.2 626.7,666.3 625,661.7 626.7,656.7 621.7,655" fill="#fb8c59" stroke="#fb8c59" stroke-width="0.5" stroke-linejoin="round"/>
<polygon points="777.5,599.5 786.7,597.5 798,598.2 810,599.5 818,602 821.7,604 826.7,605 833,603.7 839,605 842.5,611.7 842.5,620 840.8,625 845,626.7 838,628 835.8,633 837.5,638 835,643 838,646.7 833,653 828,650 821.7,646.7 815,645 808,645.8 801.7,646.7 796.7,641.7 793,636.7 790,631.7 787.5,626.7 786.7,621.7 784,616.7 782.5,610 780,605" fill="#b20000" stroke="#b20000" stroke-width="0.5" stroke-linejoin="round"/>
</g>
<polygon points="800.8,163.8 815,158.8 835,156.2 846.2,155.5 860,160 877.5,166.2 890,173.8 895.5,179.5 893.8,182 890,183 872.5,181.2 855,177.5 835,174.2 815,171.2 803.8,166.8" fill="#fb8c59"/>
<polygon points="710,473.8 715,466.2 725,462.5 737.5,462.5 750,466.2 762.5,471.2 775,473.8 787.5,480 800,486.2 812.5,491.2 825,496.2 833.8,498.8 840,506.2 845,516.2 848.8,525 843.8,528.8 845,533.8 840,536.2 836.2,531.2 835,526.2 825,525 812.5,522.5 800,521.2 787.5,517.5 775,510 762.5,503.8 750,498.8 737.5,493.8 727.5,490 720,483.8 712.5,478.8" fill="#fdcb8b"/>
</g>
<circle cx="1115" cy="209" r="0.9" fill="#fff" stroke="#777" stroke-width="0.6"/>
<circle cx="1122.5" cy="211.7" r="0.9" fill="#fff" stroke="#777" stroke-width="0.6"/>
<circle cx="1108" cy="215.8" r="0.9" fill="#fff" stroke="#777" stroke-width="0.6"/>
<circle cx="1113" cy="219" r="0.9" fill="#fff" stroke="#777" stroke-width="0.6"/>
<circle cx="1127.5" cy="217.5" r="0.9" fill="#fff" stroke="#777" stroke-width="0.6"/>
<circle cx="1119" cy="227.5" r="0.9" fill="#fff" stroke="#777" stroke-width="0.6"/>
<circle cx="1130" cy="229" r="0.9" fill="#fff" stroke="#777" stroke-width="0.6"/>
<circle cx="1110" cy="220.5" r="0.9" fill="#fff" stroke="#777" stroke-width="0.6"/>
<circle cx="1109" cy="212.5" r="0.9" fill="#fff" stroke="#777" stroke-width="0.6"/>
<polyline points="1138.3,261.7 1146.7,263.3 1155,268.3 1166.7,263.3 1176.7,258.3 1183.3,261.7 1181.7,270 1175,276.7 1166.7,280 1160,285 1150,281.7 1138.3,280 1135,281.7" fill="none" stroke="#8c8c8c" stroke-width="0.9" stroke-linejoin="round"/>
<polyline points="1181.7,270 1188.3,283.3 1196.7,285 1200,283.3" fill="none" stroke="#8c8c8c" stroke-width="0.9" stroke-linejoin="round"/>
<polyline points="1143.3,306.7 1153.3,315 1165,311.7 1175,310 1181.7,303.3 1193.3,301.7 1200,295" fill="none" stroke="#8c8c8c" stroke-width="0.9" stroke-linejoin="round"/>
<polyline points="1181.7,303.3 1176.7,295 1175,276.7" fill="none" stroke="#8c8c8c" stroke-width="0.9" stroke-linejoin="round"/>
<polyline points="1170,323.3 1176.7,318.3 1181.7,311.7 1175,310" fill="none" stroke="#8c8c8c" stroke-width="0.9" stroke-linejoin="round"/>
<polyline points="1151.7,333.3 1160,330 1170,323.3 1173.3,330 1183.3,333.3 1191.7,340 1193.3,350 1200,353.3" fill="none" stroke="#8c8c8c" stroke-width="0.9" stroke-linejoin="round"/>
<polyline points="1146.7,353.3 1156.7,355 1166.7,353.3 1175,356.7 1183.3,355 1193.3,350" fill="none" stroke="#8c8c8c" stroke-width="0.9" stroke-linejoin="round"/>
<polyline points="1166.7,353.3 1165,363.3 1170,373.3" fill="none" stroke="#8c8c8c" stroke-width="0.9" stroke-linejoin="round"/>
<polyline points="1130,360 1141.7,363.3 1150,366.7 1158.3,373.3" fill="none" stroke="#8c8c8c" stroke-width="0.9" stroke-linejoin="round"/>
<polyline points="1183.3,261.7 1186.7,250 1191.7,240" fill="none" stroke="#8c8c8c" stroke-width="0.9" stroke-linejoin="round"/>
<polyline points="1188.3,283.3 1186.7,293.3 1193.3,301.7" fill="none" stroke="#8c8c8c" stroke-width="0.9" stroke-linejoin="round"/>
<polyline points="1156.7,416.7 1166.7,428.3 1176.7,431.7 1188.3,430 1200,433.3" fill="none" stroke="#8c8c8c" stroke-width="0.9" stroke-linejoin="round"/>
<polyline points="1120,453.3 1131.7,456.7 1143.3,448.3 1150,450 1155,458.3 1163.3,460 1168.3,453.3 1180,451.7 1190,446.7 1200,443.3" fill="none" stroke="#8c8c8c" stroke-width="0.9" stroke-linejoin="round"/>
<polyline points="1155,458.3 1160,466.7 1165,473.3 1163.3,483.3" fill="none" stroke="#8c8c8c" stroke-width="0.9" stroke-linejoin="round"/>
<polyline points="1163.3,390.8 1170,383.3 1175,376.7 1183.3,378.3 1193.3,375 1200,376.7" fill="none" stroke="#8c8c8c" stroke-width="0.9" stroke-linejoin="round"/>
<polyline points="1173.3,358.3 1175,376.7" fill="none" stroke="#8c8c8c" stroke-width="0.9" stroke-linejoin="round"/>
<polyline points="1176.7,431.7 1180,440 1180,451.7" fill="none" stroke="#8c8c8c" stroke-width="0.9" stroke-linejoin="round"/>
<polyline points="1136.7,519.2 1150,518.3 1158.3,520 1166.7,525 1165,535 1161.7,543.3" fill="none" stroke="#8c8c8c" stroke-width="0.9" stroke-linejoin="round"/>
<polyline points="1118.3,537.5 1126.7,540 1138.3,540.8 1150,543.3 1161.7,543.3 1173.3,545 1183.3,548.3 1193.3,550 1200,553.3" fill="none" stroke="#8c8c8c" stroke-width="0.9" stroke-linejoin="round"/>
<polyline points="1150,543.3 1148.3,553.3 1146.7,563.3 1148.3,570 1141.7,571.7 1133.3,576.7 1126.7,583.3 1120,586.7" fill="none" stroke="#8c8c8c" stroke-width="0.9" stroke-linejoin="round"/>
<polyline points="1148.3,570 1156.7,576.7 1165,580 1166.7,586.7 1176.7,590 1183.3,593.3 1188.3,586.7 1190,576.7" fill="none" stroke="#8c8c8c" stroke-width="0.9" stroke-linejoin="round"/>
<polyline points="1173.3,545 1175,556.7 1170,566.7 1168.3,576.7 1165,580" fill="none" stroke="#8c8c8c" stroke-width="0.9" stroke-linejoin="round"/>
<polyline points="1193.3,550 1196.7,556.7 1190,566.7 1188.3,576.7 1190,576.7 1200,578.3" fill="none" stroke="#8c8c8c" stroke-width="0.9" stroke-linejoin="round"/>
<polyline points="1115,552.5 1113.3,560 1116.7,568.3 1123.3,573.3 1120,578.3 1113.3,580 1111.7,583.3 1120,586.7 1130,593.3 1141.7,598.3 1150,603.3" fill="none" stroke="#8c8c8c" stroke-width="0.9" stroke-linejoin="round"/>
<polyline points="1156.7,486.7 1160,485 1166.7,484.2 1166.7,493.3 1165,500 1168.3,505 1176.7,508.3 1180,513.3 1178.3,523.3 1180,533.3 1180,545" fill="none" stroke="#8c8c8c" stroke-width="0.9" stroke-linejoin="round"/>
<polyline points="1138.3,500 1148.3,500.8 1156.7,495 1156.7,486.7 1155,480 1165,473.3 1166.7,470" fill="none" stroke="#8c8c8c" stroke-width="0.9" stroke-linejoin="round"/>
<polyline points="1183.3,506.7 1190,505 1200,504.2" fill="none" stroke="#8c8c8c" stroke-width="0.9" stroke-linejoin="round"/>
<polyline points="1183.3,506.7 1180,513.3" fill="none" stroke="#8c8c8c" stroke-width="0.9" stroke-linejoin="round"/>
<polyline points="1183.3,506.7 1181.7,495 1185,486.7 1183.3,478.3 1186.7,470" fill="none" stroke="#8c8c8c" stroke-width="0.9" stroke-linejoin="round"/>
<polyline points="1166.7,525 1178.3,523.3" fill="none" stroke="#8c8c8c" stroke-width="0.9" stroke-linejoin="round"/>
<polyline points="1146.2,631.2 1152.5,610 1150,600" fill="none" stroke="#8c8c8c" stroke-width="0.9" stroke-linejoin="round"/>
<polyline points="1146.2,631.2 1165,640 1180,650 1200,657.5" fill="none" stroke="#8c8c8c" stroke-width="0.9" stroke-linejoin="round"/>
<polyline points="1152.5,610 1170,607.5 1185,600" fill="none" stroke="#8c8c8c" stroke-width="0.9" stroke-linejoin="round"/>
<polyline points="1192.5,632.5 1190,615 1200,605" fill="none" stroke="#8c8c8c" stroke-width="0.9" stroke-linejoin="round"/>
<polyline points="1187.5,670 1192.5,650 1192.5,632.5 1180,650" fill="none" stroke="#8c8c8c" stroke-width="0.9" stroke-linejoin="round"/>
<polyline points="1135,705 1150,710 1170,707.5 1187.5,717.5 1195,730 1200,735" fill="none" stroke="#8c8c8c" stroke-width="0.9" stroke-linejoin="round"/>
<polyline points="1170,707.5 1175,687.5 1187.5,670 1200,672.5" fill="none" stroke="#8c8c8c" stroke-width="0.9" stroke-linejoin="round"/>
<polyline points="1162.5,770 1175,772.5 1187.5,780 1200,782.5" fill="none" stroke="#8c8c8c" stroke-width="0.9" stroke-linejoin="round"/>
<polyline points="1187.5,717.5 1200,710" fill="none" stroke="#8c8c8c" stroke-width="0.9" stroke-linejoin="round"/>
<polyline points="673.8,266.9 680,262.5 681.9,256.2 683.8,251.2 688.8,253.8 690,248.8 696.2,247.5 702.5,245 707.5,243.1 711.2,245 713.8,248.8 717.5,253.8 718.8,257.5" fill="none" stroke="#707070" stroke-width="0.95" stroke-linejoin="round"/>
<polyline points="717.5,218.1 718.8,222.5 720,227.5 721.2,233.8 722.5,240 725,245 727.5,248.1 723.8,258.1" fill="none" stroke="#707070" stroke-width="0.95" stroke-linejoin="round"/>
<polyline points="925,238.8 923.8,250 927.5,265 938.8,268.8" fill="none" stroke="#707070" stroke-width="0.95" stroke-linejoin="round"/>
<polyline points="900,245 910,251.2 923.8,250" fill="none" stroke="#707070" stroke-width="0.95" stroke-linejoin="round"/>
<polyline points="925,238.8 937.5,235 950,232.5" fill="none" stroke="#707070" stroke-width="0.95" stroke-linejoin="round"/>
<polyline points="952.5,237.5 950,250 961.2,256.2" fill="none" stroke="#707070" stroke-width="0.95" stroke-linejoin="round"/>
<polyline points="970,240 966.2,250 961.2,256.2" fill="none" stroke="#707070" stroke-width="0.95" stroke-linejoin="round"/>
<polyline points="970,262.5 977.5,258.8 975,245 977.5,242.5" fill="none" stroke="#707070" stroke-width="0.95" stroke-linejoin="round"/>
<polyline points="900,265 912.5,263.8 920,270 915,282.5 918.8,292.5 922.5,295" fill="none" stroke="#707070" stroke-width="0.95" stroke-linejoin="round"/>
<polyline points="920,270 927.5,265" fill="none" stroke="#707070" stroke-width="0.95" stroke-linejoin="round"/>
<polyline points="953.8,296.2 947.5,305 945,310" fill="none" stroke="#707070" stroke-width="0.95" stroke-linejoin="round"/>
<polyline points="987.5,246.2 988.8,257.5 986.2,270 988.8,282.5 975,295 965,292.5" fill="none" stroke="#707070" stroke-width="0.95" stroke-linejoin="round"/>
<polyline points="996.2,240 993.8,250 998.8,256.2 1010,256.2" fill="none" stroke="#707070" stroke-width="0.95" stroke-linejoin="round"/>
<polyline points="998.8,256.2 996.2,270 1000,285 1005,295 988.8,298.8" fill="none" stroke="#707070" stroke-width="0.95" stroke-linejoin="round"/>
<polyline points="1008.8,287.5 1005,295 1007.5,310 1002.5,317.5 998.8,320" fill="none" stroke="#707070" stroke-width="0.95" stroke-linejoin="round"/>
<polyline points="1017.5,282.5 1025,290 1031.2,290" fill="none" stroke="#707070" stroke-width="0.95" stroke-linejoin="round"/>
<polyline points="1007.5,310 1020,317.5 1036.2,313.8" fill="none" stroke="#707070" stroke-width="0.95" stroke-linejoin="round"/>
<polyline points="1020,317.5 1023.8,332.5 1025,345 1030,350 1020,355 1017.5,365 1022.5,375 1023.8,381.2" fill="none" stroke="#707070" stroke-width="0.95" stroke-linejoin="round"/>
<polyline points="1025,345 1036.2,338.8 1040,331.2" fill="none" stroke="#707070" stroke-width="0.95" stroke-linejoin="round"/>
<polyline points="1030,350 1045,357.5 1060,360 1065,362.5" fill="none" stroke="#707070" stroke-width="0.95" stroke-linejoin="round"/>
<polyline points="1002.5,317.5 1010,330 1015,340 1010,350 1017.5,365" fill="none" stroke="#707070" stroke-width="0.95" stroke-linejoin="round"/>
<polyline points="867,353 872,357 877,361 884,365 890,369 895,370 898,371 900,378 896,379 894,385" fill="none" stroke="#707070" stroke-width="0.95" stroke-linejoin="round"/>
<polyline points="898,371 903,369 908,368 913,369 920,366" fill="none" stroke="#707070" stroke-width="0.95" stroke-linejoin="round"/>
<polyline points="1066.7,256.7 1073.3,261.7 1071.7,270 1066.7,280 1070,290 1075,298.3 1078.3,303.3 1071.7,306.7 1073.3,311.7 1081.7,318.3 1090,325 1096.7,333.3 1100,340 1106.7,346.7 1115,356.7 1123.3,363.3" fill="none" stroke="#707070" stroke-width="0.95" stroke-linejoin="round"/>
<polyline points="1078.3,303.3 1086.7,306.7 1095,303.3 1091.7,295 1090,286.7 1093.3,278.3 1091.7,270" fill="none" stroke="#707070" stroke-width="0.95" stroke-linejoin="round"/>
<polyline points="1120,261.7 1120,273.3 1118.3,283.3 1116.7,291.7 1113.3,300 1110,310 1108.3,320 1106.7,330 1100,340" fill="none" stroke="#707070" stroke-width="0.95" stroke-linejoin="round"/>
<polyline points="1116.7,291.7 1126.7,293.3 1133.3,293.3" fill="none" stroke="#707070" stroke-width="0.95" stroke-linejoin="round"/>
<polyline points="1106.7,330 1116.7,333.3 1125,340 1133.3,343.3 1143.3,346.7 1146.7,348.3" fill="none" stroke="#707070" stroke-width="0.95" stroke-linejoin="round"/>
<polyline points="1143.3,306.7 1145,315 1141.7,323.3 1136.7,330 1133.3,336.7 1133.3,343.3" fill="none" stroke="#707070" stroke-width="0.95" stroke-linejoin="round"/>
<polyline points="1038.3,281.7 1045,290 1050,300 1058.3,310 1060,320 1058.3,328.3 1063.3,333.3 1058.3,340" fill="none" stroke="#707070" stroke-width="0.95" stroke-linejoin="round"/>
<polyline points="1058.3,310 1066.7,313.3 1073.3,311.7" fill="none" stroke="#707070" stroke-width="0.95" stroke-linejoin="round"/>
<polyline points="1060,338.3 1070,341.7 1078.3,346.7 1083.3,353.3 1090,346.7 1096.7,343.3 1100,340" fill="none" stroke="#707070" stroke-width="0.95" stroke-linejoin="round"/>
<polyline points="1048.3,273.3 1063.3,276.7 1066.7,280" fill="none" stroke="#707070" stroke-width="0.95" stroke-linejoin="round"/>
<polyline points="1023.3,381.7 1030,385 1038.3,391.7 1040,401.7 1035,411.7 1030,420 1021.7,425 1013.3,431.7" fill="none" stroke="#707070" stroke-width="0.95" stroke-linejoin="round"/>
<polyline points="1056.7,370 1061.7,376.7 1070,385 1071.7,393.3 1080,400 1088.3,401.7 1096.7,398.3 1095,393.3 1100,386.7 1103.3,380" fill="none" stroke="#707070" stroke-width="0.95" stroke-linejoin="round"/>
<polyline points="1096.7,398.3 1101.7,403.3 1103.3,411.7 1096.7,420 1091.7,425 1086.7,428.3 1086.7,435 1091.7,441.7 1100,445 1101.7,451.7" fill="none" stroke="#707070" stroke-width="0.95" stroke-linejoin="round"/>
<polyline points="1101.7,403.3 1110,410 1116.7,416.7 1126.7,420 1133.3,426.7 1138.3,433.3" fill="none" stroke="#707070" stroke-width="0.95" stroke-linejoin="round"/>
<polyline points="1030,446.7 1038.3,438.3 1046.7,436.7 1058.3,435.8 1070,440 1080,445.8 1086.7,446.7 1091.7,441.7" fill="none" stroke="#707070" stroke-width="0.95" stroke-linejoin="round"/>
<polyline points="1030,446.7 1035,453.3 1043.3,463.3 1048.3,468.3 1056.7,469.2 1063.3,473.3" fill="none" stroke="#707070" stroke-width="0.95" stroke-linejoin="round"/>
<polyline points="1016.7,355 1021.7,365 1020,375 1023.3,381.7" fill="none" stroke="#707070" stroke-width="0.95" stroke-linejoin="round"/>
<polyline points="1103.3,350 1113.3,358.3 1123.3,368.3 1128.3,375" fill="none" stroke="#707070" stroke-width="0.95" stroke-linejoin="round"/>
<polyline points="450,542.5 451.7,551.7 450,560 446.7,563.3 441.7,566.7 435,570 430,574.2" fill="none" stroke="#707070" stroke-width="0.95" stroke-linejoin="round"/>
<polyline points="417.5,561.7 425,563.3 435,565 446.7,563.3" fill="none" stroke="#707070" stroke-width="0.95" stroke-linejoin="round"/>
<polyline points="446.7,563.3 453.3,565 457.5,563.3" fill="none" stroke="#707070" stroke-width="0.95" stroke-linejoin="round"/>
<polyline points="441.7,566.7 438.3,576.7 440,586.7 436.7,596.7 435,603.3 438.3,611.7 441.7,618.3" fill="none" stroke="#707070" stroke-width="0.95" stroke-linejoin="round"/>
<polyline points="421.7,576.7 420,586.7 425,595 423.3,598.3 435,600" fill="none" stroke="#707070" stroke-width="0.95" stroke-linejoin="round"/>
<polyline points="395,611.7 400,606.7 408.3,605 415,601.7 423.3,598.3" fill="none" stroke="#707070" stroke-width="0.95" stroke-linejoin="round"/>
<polyline points="415,601.7 418.3,608.3 430,610 438.3,611.7" fill="none" stroke="#707070" stroke-width="0.95" stroke-linejoin="round"/>
<polyline points="456.7,621.7 458.3,628.3 455,636.7 451.7,640" fill="none" stroke="#707070" stroke-width="0.95" stroke-linejoin="round"/>
<polyline points="458.3,628.3 468.3,631.7 480,630 486.7,623.3 490,618.3 491.7,615" fill="none" stroke="#707070" stroke-width="0.95" stroke-linejoin="round"/>
<polyline points="530.8,561.7 532.5,568.3 535,575 533.3,579.2 525,580 516.7,583.3 511.7,588.3 510,596.7 511.7,605 510.8,616.7" fill="none" stroke="#707070" stroke-width="0.95" stroke-linejoin="round"/>
<polyline points="535,575 546.7,578.3 556.7,586.7" fill="none" stroke="#707070" stroke-width="0.95" stroke-linejoin="round"/>
<polyline points="603.3,612.5 605,620 603.3,628.3 605,635 605.8,640" fill="none" stroke="#707070" stroke-width="0.95" stroke-linejoin="round"/>
<polyline points="606.7,646.7 613.3,650 620,648.3 621.7,648.3" fill="none" stroke="#707070" stroke-width="0.95" stroke-linejoin="round"/>
<polyline points="511.7,621.7 508.3,630 513.3,638.3 520,643.3 521.7,651.7 520,658.3 523.3,666.7 530,673.3 535,681.7 536.7,695" fill="none" stroke="#707070" stroke-width="0.95" stroke-linejoin="round"/>
<polyline points="525,623.3 528.3,633.3 535,641.7 540,651.7 546.7,658.3 553.3,665 551.7,673.3 548.3,678.3" fill="none" stroke="#707070" stroke-width="0.95" stroke-linejoin="round"/>
<polyline points="491.7,616.7 490,625 493.3,633.3 491.7,640 496.7,648.3 501.7,656.7 505,668.3" fill="none" stroke="#707070" stroke-width="0.95" stroke-linejoin="round"/>
<polyline points="493.3,633.3 503.3,636.7 513.3,638.3" fill="none" stroke="#707070" stroke-width="0.95" stroke-linejoin="round"/>
<polyline points="513.3,638.3 506.7,650 501.7,656.7" fill="none" stroke="#707070" stroke-width="0.95" stroke-linejoin="round"/>
<polyline points="535,673.3 543.3,675 548.3,678.3 555,685 561.7,693.3" fill="none" stroke="#707070" stroke-width="0.95" stroke-linejoin="round"/>
<polyline points="535,673.3 536.7,683.3 543.3,693.3 548.3,690 555,685" fill="none" stroke="#707070" stroke-width="0.95" stroke-linejoin="round"/>
<polyline points="555,685 558.3,698.3 553.3,706.7 551.7,717.5" fill="none" stroke="#707070" stroke-width="0.95" stroke-linejoin="round"/>
<polyline points="570.8,612.5 570,618.3 571.7,625 575,629.2" fill="none" stroke="#707070" stroke-width="0.95" stroke-linejoin="round"/>
<polyline points="610,577.5 611.7,583.3 610,590 611.7,598.3 610,606.7" fill="none" stroke="#707070" stroke-width="0.95" stroke-linejoin="round"/>
<polyline points="610,598.3 616.7,601.7 626.7,600.8 635,600 643.3,601.7 650,606.7 653.3,613.3 656.7,616.7 658.3,620" fill="none" stroke="#707070" stroke-width="0.95" stroke-linejoin="round"/>
<polyline points="605,640 606.7,646.7 605.8,655 603.3,660" fill="none" stroke="#707070" stroke-width="0.95" stroke-linejoin="round"/>
<polyline points="873.3,608.3 876.7,615 875,620 881.7,626.7 888.3,631.7 888.3,635.8" fill="none" stroke="#707070" stroke-width="0.95" stroke-linejoin="round"/>
<polyline points="820,653.3 818.3,660 825,663.3 823.3,670 821.7,676.7 820,683.3" fill="none" stroke="#707070" stroke-width="0.95" stroke-linejoin="round"/>
<polyline points="856.7,651.7 863.3,650 870,653.3 878.3,656.7 886.7,660 890,666.7 891.7,673.3" fill="none" stroke="#707070" stroke-width="0.95" stroke-linejoin="round"/>
<polyline points="888.3,635.8 893.3,643.3 891.7,651.7 886.7,660" fill="none" stroke="#707070" stroke-width="0.95" stroke-linejoin="round"/>
<polyline points="936.7,646.7 943.3,648.3 945,660" fill="none" stroke="#707070" stroke-width="0.95" stroke-linejoin="round"/>
<polyline points="913.3,576.7 910,585 910,591.7 916.7,595.8 926.7,595.8 936.7,595 941.7,595 938.3,585 939.2,575.8" fill="none" stroke="#707070" stroke-width="0.95" stroke-linejoin="round"/>
<polyline points="938.3,595 940.8,606.7 941.7,615.8" fill="none" stroke="#707070" stroke-width="0.95" stroke-linejoin="round"/>
<polyline points="963.3,580 964.2,588.3 965,590" fill="none" stroke="#707070" stroke-width="0.95" stroke-linejoin="round"/>
<polyline points="963.3,630 963.3,640 965,650 966.7,660" fill="none" stroke="#707070" stroke-width="0.95" stroke-linejoin="round"/>
<polyline points="998.3,630 1001.7,640 1003.3,651.7 1004.2,663.3" fill="none" stroke="#707070" stroke-width="0.95" stroke-linejoin="round"/>
<polyline points="936.7,646.7 943.3,648.3 945,656.7 945.8,661.7" fill="none" stroke="#707070" stroke-width="0.95" stroke-linejoin="round"/>
<polyline points="890,638.3 891.7,646.7 890,656.7 893.3,663.3" fill="none" stroke="#707070" stroke-width="0.95" stroke-linejoin="round"/>
<polyline points="1083.8,607.5 1080,625 1072.5,637.5" fill="none" stroke="#707070" stroke-width="0.95" stroke-linejoin="round"/>
<polyline points="1085,640 1082.5,655 1077.5,670" fill="none" stroke="#707070" stroke-width="0.95" stroke-linejoin="round"/>
<polyline points="1102.5,648.8 1097.5,660 1090,665 1085,673.8" fill="none" stroke="#707070" stroke-width="0.95" stroke-linejoin="round"/>
<polyline points="1117.5,646.2 1112.5,662.5 1107.5,675 1107.5,692.5" fill="none" stroke="#707070" stroke-width="0.95" stroke-linejoin="round"/>
<polyline points="1072.5,625 1080,620 1085,610 1090,600 1092.5,592.5" fill="none" stroke="#707070" stroke-width="0.95" stroke-linejoin="round"/>
<polyline points="673.3,603.3 670,610 668.3,611.7" fill="none" stroke="#7a6a62" stroke-width="1.1" stroke-opacity="0.8" stroke-linejoin="round"/>
<polyline points="722.5,613.3 731.7,611.7 740,608.3 743.3,605 748.3,606.7 760,603.3" fill="none" stroke="#7a6a62" stroke-width="1.1" stroke-opacity="0.8" stroke-linejoin="round"/>
<polyline points="740,608.3 741.7,615 750,621.7" fill="none" stroke="#7a6a62" stroke-width="1.1" stroke-opacity="0.8" stroke-linejoin="round"/>
<polyline points="760,476.2 760,490 767.5,495 777.5,496.2 785,501.2 792.5,505 793.8,520" fill="none" stroke="#7a6a62" stroke-width="1.1" stroke-opacity="0.8" stroke-linejoin="round"/>
<polyline points="855,201.2 853.8,207.5 860,213.8 861.2,216.2" fill="none" stroke="#7a6a62" stroke-width="1.1" stroke-opacity="0.8" stroke-linejoin="round"/>
<polyline points="835,226.2 842.5,228.8 851.2,226.2 853.8,218.8 855,214.4" fill="none" stroke="#7a6a62" stroke-width="1.1" stroke-opacity="0.8" stroke-linejoin="round"/>
<polyline points="935,510 945,502.5 957.5,495 970,495" fill="none" stroke="#7a6a62" stroke-width="1.1" stroke-opacity="0.8" stroke-linejoin="round"/>
<polyline points="935,348 929,353 925,355" fill="none" stroke="#7a6a62" stroke-width="1.1" stroke-opacity="0.8" stroke-linejoin="round"/>
<polyline points="996.2,475 996.2,491.2" fill="none" stroke="#7a6a62" stroke-width="1.1" stroke-opacity="0.8" stroke-linejoin="round"/>
<polyline points="998.8,477.5 1010,485 1020,497.5" fill="none" stroke="#7a6a62" stroke-width="1.1" stroke-opacity="0.8" stroke-linejoin="round"/>
<polyline points="1000,576.7 1003.3,581.7 1008.3,588.3 1013.3,591.7 1018.3,596.7 1020.8,600" fill="none" stroke="#7a6a62" stroke-width="1.1" stroke-opacity="0.8" stroke-linejoin="round"/>
<polyline points="1009.2,628.3 1009.2,620 1010,613.3 1011.7,610" fill="none" stroke="#7a6a62" stroke-width="1.1" stroke-opacity="0.8" stroke-linejoin="round"/>
<polyline points="855,384 860,383.5 865,383 869,385 872,386 876,384 879,386.5 882,388 888,389 892,392 896,392.5 900,394" fill="none" stroke="#7a6a62" stroke-width="1.1" stroke-opacity="0.8" stroke-linejoin="round"/>
<polyline points="757.5,282.5 756.25,277.5 758.75,270 760,261.9 765,258.75 770,253.75 775,250 780,251.25 787.5,251.25 792.5,252.5 800,255 812.5,257.5 835,255 842.5,247.5 852.5,240 865,233.8 867.5,226.5 878.8,228.1 886.2,229.4 892.5,230.6 896.2,226.9 902.5,226.2 905,221.2 910,217.5 911.2,213.1" fill="none" stroke="#111" stroke-width="1.4" stroke-linejoin="round" stroke-linecap="round"/>
<polyline points="878.8,228 885.8,240 889.8,242.8 889,248 899,248.8 900.5,258.8 905,268 907.5,270 910.8,278 915,286.7 920,295 928,301.7 936.7,307.5 943,310 948,306.7 950,300 955,297.5 961.7,292.5 966.7,296.7 973,298 975.8,303 975,310 976.7,318 975.8,325 983,326.7 995,324 996.7,330 1001.7,336.7 1000,345 1000,350 1005,360 1009,368" fill="none" stroke="#111" stroke-width="1.4" stroke-linejoin="round" stroke-linecap="round"/>
<polyline points="1009,368 1000,376.7 998,386.7 993,393 995,403 995,410 1002.5,417.5 1000,425 1001.2,432.5 997.5,442.5 998.8,455 1000,467.5 998.8,472.5 996.2,491.2" fill="none" stroke="#111" stroke-width="1.4" stroke-linejoin="round" stroke-linecap="round"/>
<polyline points="1048,261.7 1046.7,273 1043,280 1035,280.8 1033,290 1031.7,295 1033,301.7 1036.7,310 1040,316.7 1045,323 1045.8,328 1040.8,331.7 1046.7,333 1053,335.8 1058,341.7 1063,348 1068,355 1070.8,360.8" fill="none" stroke="#111" stroke-width="1.4" stroke-linejoin="round" stroke-linecap="round"/>
<polyline points="1009,368 1018,376.7 1023,381.7 1033,380 1043,375 1053,370 1063,365 1070.8,360.8" fill="none" stroke="#111" stroke-width="1.4" stroke-linejoin="round" stroke-linecap="round"/>
<polyline points="1070.8,360.8 1075,366.7 1083,369 1090,375 1096.7,377.5 1106.7,379 1116.7,380.8 1125,380.8 1131.7,376.7" fill="none" stroke="#111" stroke-width="1.4" stroke-linejoin="round" stroke-linecap="round"/>
<polyline points="872,468 878,461 885,460 895,459 905,460 915,462 925,464 931,466 936,471 940,473 945,472.5 950.5,473.5 955,479 960,484 964,488.5 970,490 985,490.75 996.25,490" fill="none" stroke="#111" stroke-width="1.4" stroke-linejoin="round" stroke-linecap="round"/>
<polyline points="964,488.5 970,496 976,503.5 985,502 991,508 1000,513 1000,513 1006.7,516.7 1010.8,521.7 1011.7,525 1021.7,535 1030,533 1040,526.7 1045,528 1053,527.5 1061.7,526.7 1071.7,523 1080,523 1088,526.7 1098,529 1106.7,531.7 1113,536.7 1118,537.5" fill="none" stroke="#111" stroke-width="1.4" stroke-linejoin="round" stroke-linecap="round"/>
<polyline points="793,636.7 796.7,641.7 801.7,646.7 808,645.8 815,645 821.7,646.7 828,650 833,653 838,646.7 846.7,649 856.7,651.7 861.7,646.7 863,638 868,643 873,640 880,636.7 885,634 893,630.8 898,635 901.7,630 906.7,628 913,626.7 916.7,621.7 923,616.7 931.7,615 941.7,615.8 946.7,616.7 948,620 953,617.5 961.7,618 964,621.7 965,626.7 973,630 983,630 996.7,629 1009,628 1018,630 1030,631.7 1040,634 1050,636.7 1063,638 1073,638 1080,639 1085,640 1097.5,640 1102.5,648.8 1117.5,646.2 1132.5,645 1137.5,645" fill="none" stroke="#111" stroke-width="1.4" stroke-linejoin="round" stroke-linecap="round"/>
<polyline points="777.5,599.5 780,605 782.5,610 784,616.7 786.7,621.7 787.5,626.7 790,631.7 793,636.7 791.7,643 790,650 789,658 790,666.7 790.8,673.5" fill="none" stroke="#111" stroke-width="1.4" stroke-linejoin="round" stroke-linecap="round"/>
<polyline points="580.8,610 590,610.8 598,610 603,613 608,608 613,606.7 621.7,607.5 630,609 635,611.7 638,615.8 643,620 641.7,625 640.8,631.7 651.7,632.5 663,631.7 675,631 683,630 693,628.7 701.7,625 710,621.7 718,620 726.7,621.7 735,620.8 743,620 750,621.7 751.7,626.7 760,626.7 766.7,628 773,633 778,640 783,648 786.7,655 789,658" fill="none" stroke="#111" stroke-width="1.4" stroke-linejoin="round" stroke-linecap="round"/>
<polyline points="400,626.7 408,627.5 421.7,625.8 433,625 440,620 443,616.7 448,620 456.7,621.7 461.7,615 471.7,616.7 481.7,615.8 491.7,615 501.7,616.7 511.7,619 518,620.8 526.7,622.5 536.7,624 547.5,625.8 548,620.8 546.7,615.8 556.7,613 566.7,611.7 580.8,610" fill="none" stroke="#111" stroke-width="1.4" stroke-linejoin="round" stroke-linecap="round"/>
<polyline points="593,575 588,581.7 583,588 590,593 585,598 581.7,605 580.8,610" fill="none" stroke="#111" stroke-width="1.4" stroke-linejoin="round" stroke-linecap="round"/>
<polygon points="668.75,248.75 671.25,242.5 675,237.5 680,236.25 685,232.5 690,228.75 692.5,226 690.5,224.2 685,224.8 680.5,226.8 677.5,229.5 678.5,225.5 683,222.3 689,221.3 695,222.3 701.25,222.5 707.5,219.4 713.75,216.9 720,215 725,211.9 730,208.75 736.25,205 742.5,201.25 747.5,199.4 755,200 762.5,200.6 770,201.9 777.5,202.5 783.75,203.75 787.5,201.9 792.5,202.5 796.2,202.5 805,200 812.5,198.8 821.2,196.9 830,196.2 835,195 841.2,193.5 847.5,194.4 855,195 862.5,195.6 870,197.5 877.5,200.6 883.8,203.8 890,206.2 896.2,208.1 903.8,208.1 908.8,210 911.2,213.1 917.5,216.2 922.5,221.2 926.2,222.5 930,226.2 937,228 941.25,230 946.25,227.5 952.5,232.5 958.75,230.6 963.75,236.25 968.75,240 972.5,245 971.9,247.5 972.5,255 976.25,260 979.4,258.75 978.75,250 977.5,243.75 980,246.25 987.5,244.4 993.75,243.75 997.5,238.75 1003.75,240 1011.25,238.75 1012.5,243.75 1010,248.75 1016.25,250 1023.75,247.5 1030,250 1032.5,253.75 1038.75,255 1045,255 1050,253.3 1053.3,258.3 1050,261.7 1055,262.5 1063.3,261.7 1066.7,253.3 1075,252.5 1086.7,255 1096.7,256.7 1106.7,258.3 1116.7,259.2 1129.2,261.7 1129,261.7 1133,273 1135,285 1138,296.7 1143,306.7 1148,315 1148,325 1151.7,333 1148,341.7 1146.7,350 1145,353 1135,357.5 1123,362.5 1128,370 1131.7,376.7 1138,378 1146.7,385 1156.7,389 1163,390.8 1165,396.7 1161.7,403 1160,411.7 1156.7,416.7 1150,421.7 1145,426.7 1141.7,433 1136.7,438 1130,443 1123,448 1116.7,451.7 1108,451.7 1101.7,456.7 1096.7,463 1095,466.7 1100,465 1108,461.7 1116.7,465 1123,465 1125,470 1128,476.7 1135,481.7 1138,486.7 1138,500 1136.7,513 1135,523 1130,530 1123,535 1118,537.5 1116.7,545 1115,552.5 1106.7,553 1100,551.7 1096.7,553 1091.7,548 1085,550 1080,548 1073,546.7 1066.7,551.7 1061.7,555.8 1066.7,558 1073,563 1078,570 1085,576.7 1091.7,583 1096.7,590 1095,593 1088,593 1090,600 1100,605 1107.5,612.5 1117.5,620 1130,627.5 1146,631 1140,642.5 1135,652.5 1130,662.5 1123,672.5 1125,677.5 1132.5,685 1133.75,695 1135,705 1130,715 1125,711 1115,702.5 1107.5,692.5 1097.5,682.5 1085,673.75 1080,669 1068,666.7 1060,664 1053,662.5 1046.7,660 1036.7,660.8 1026.7,661.7 1016.7,662.5 1006.7,663 996.7,663 983,662.5 970,660.8 958,660 946.7,661.7 935,663 923,662.5 913,663 915.8,670 912,674 906.7,676.7 900,675 891.7,673 883,673 873,675 863,675 858,677.5 860,682.5 851.7,683 841.7,684 831.7,685 821.7,684 811.7,681.7 801.7,679 793,676.7 790.8,673 786.7,675 776.7,675 766.7,671.7 760,668 752.5,666 740,664 727.5,663.5 715,663 702.5,663.5 694,663 691,660 693.5,655 688,650 686.7,650 683,653 678,651.7 673,653 666.7,654 660,656.7 655,659 650,656.7 643,656.7 636.7,655 635,660 638,665 633,666.7 626.7,665.8 625,661.7 626.7,656.7 621.7,655 620,656.7 621.7,661.7 618,665 613,665.8 611.7,661.7 606.7,660 601.7,663 595,668 586.7,672.5 578,676.7 571.7,681.7 565,686.7 561.7,693 566.7,698 573,705 578,708 579,713 573,716.7 563,717.5 553,717.5 546.7,715 543,708 540,701.7 536.7,695 530,688 521.7,681.7 513,675 505,668 496.7,661.7 488,655 480,651.7 475,649 468,645 460,640.8 451.7,640 443,643 435,646.7 425,645 416.7,641.7 411.7,636.7 406.7,633 400,628 398,623 395,615 390,611.7 391.7,605 395,596.7 396.7,588 400,580 403,570 405,561.7 408,556.7 413,551.7 420,550 428,547.5 436.7,545 443,546.7 450,542.5 458,541 466.7,540.8 475,542 483,544.7 490,549 496.7,555 501.7,558 511.7,560 521.7,560.8 530,561.7 538,563 545,566.7 548,570 556.7,570 563,570.8 568,572.5 576.7,577.5 585,577.5 593,575 595.8,571.7 603,568 615,566.7 626.7,564.7 635,564.7 639,567.5 637.5,571.7 630,574 618,574.7 610,574 603,575.8 610,577.5 611.7,583 615,587.5 623,588 631.7,587.5 640,585.8 646.7,583 653,581.7 660,580.8 666.7,581.7 671.7,583 680,583.7 686.7,585 693,586.7 701.7,589 710,591.7 716.7,593 723,593 731.7,591.7 740,591 748,592.5 755,594 760,597.5 762,601 765,601.7 770,600.8 776.7,599 786.7,598 798,598.7 810,600 818,602.5 821.7,604 826.7,605 833,603.7 840,604 846.7,606.7 855,607.5 863,608 870,606.7 876.7,604 881.7,599 884,591.7 886.7,585 890,579 895,575 901.7,572 906.7,570.8 913,572.5 918,575 928,575.8 938,575.8 946.7,575 953,574 960,576.7 965,579 968,575.8 970,570 968,565 970.8,560 968,555 970,551.7 974,546.7 977.5,543.75 975,538.75 965,535 955,532.5 945,528.75 937.5,522.5 930,516 917.5,511 907.5,502.5 900,492.5 890,483.75 885,476 878,473 872,468 867,465 864,459 860,453 853,448 845,444 841,440 841,434 846,430 853,427.5 860,428 867,427.5 872,424 874,419 870,415 862,411 856,406 853,400 850,396 847,392 851,388 854,382 854,376 861,375 866,375 868,370 866,366 860,364 855,360 854,355 858,350 865,352 870,346 868,340 870,337.5 873.75,330 865,327.5 856,322.5 848.75,316 837.5,310 825,305 812.5,300 800,293.75 792.5,288.75 787.5,287.5 782.5,285 775,282.5 767.5,282.5 762.5,281.25 757.5,282.5 752.5,282.5 745,280 738.75,276.25 735,273.75 731.25,278.75 723.75,280.6 712.5,281.9 701.25,282.25 691.25,282.5 682.5,278.75 676.25,273.75 671.25,267.5 668.75,261.25 668,255" fill="none" stroke="#0a0a0a" stroke-width="1.5" stroke-linejoin="round"/>
<polygon points="800.8,163.8 815,158.8 835,156.2 846.2,155.5 860,160 877.5,166.2 890,173.8 895.5,179.5 893.8,182 890,183 872.5,181.2 855,177.5 835,174.2 815,171.2 803.8,166.8" fill="none" stroke="#0a0a0a" stroke-width="1.2" stroke-linejoin="round"/>
<polygon points="710,473.8 715,466.2 725,462.5 737.5,462.5 750,466.2 762.5,471.2 775,473.8 787.5,480 800,486.2 812.5,491.2 825,496.2 833.8,498.8 840,506.2 845,516.2 848.8,525 843.8,528.8 845,533.8 840,536.2 836.2,531.2 835,526.2 825,525 812.5,522.5 800,521.2 787.5,517.5 775,510 762.5,503.8 750,498.8 737.5,493.8 727.5,490 720,483.8 712.5,478.8" fill="none" stroke="#0a0a0a" stroke-width="1.2" stroke-linejoin="round"/>
<polygon points="600,695 606.7,696.7 611.7,700 618,701.7 625,698 630,697.5 635,700.8 637.5,705 633,708 625,709 616.7,708 608,706.7 603,701.7" fill="none" stroke="#0a0a0a" stroke-width="1.2" stroke-linejoin="round"/>
<polygon points="575.8,558 578,553 585,550 593,550 600,552.5 602.5,556.7 600,561.7 593,565 586.7,565.8 580,563" fill="none" stroke="#0a0a0a" stroke-width="1.2" stroke-linejoin="round"/>
<polygon points="1090,265.5 1093,268.2 1097,269.8 1103,268 1107,266 1112,266.8 1115.5,268.5 1115,272 1113.5,276.5 1111,274.5 1109,272.2 1105,271.7 1101,273 1096,273.6 1093,271.3 1091,268.5" fill="none" stroke="#0a0a0a" stroke-width="1.2" stroke-linejoin="round"/>
</g>
<rect x="310.6" y="132.6" width="900" height="680" fill="none" stroke="#555" stroke-width="1.5"/>
<g clip-path="url(#mc)" font-family="'Liberation Sans', sans-serif" font-weight="bold" fill="#f3f3f5">
<defs><pattern id="hat" width="2.2" height="2.2" patternUnits="userSpaceOnUse" patternTransform="rotate(-35)"><rect width="2.2" height="1.1" fill="#f3f3f5"/></pattern></defs>
<path d="M386 728 L395 720 L408 716 L420 713 L432 710 L446 709 L449 716 L445 724 L449 732 L444 740 L437 744 L430 752 L424 760 L416 758 L410 750 L404 742 L398 733 L392 729 Z" fill="url(#hat)"/>
<path d="M424 768 L433 763 L444 766 L452 772 L455 782 L452 792 L447 800 L434 800 L430 790 L424 780 Z" fill="url(#hat)"/>
<circle cx="421" cy="772" r="28.5" fill="none" stroke="#f3f3f5" stroke-width="11"/>
<text x="337.5" y="812" font-size="114" stroke="#f3f3f5" stroke-width="3" textLength="23" lengthAdjust="spacingAndGlyphs">1</text>
<text x="360" y="812" font-size="114" stroke="#f3f3f5" stroke-width="3.5" textLength="32" lengthAdjust="spacingAndGlyphs">2</text>
<text transform="translate(343.3 812) rotate(-90)" font-size="24.5" stroke="#f3f3f5" stroke-width="0.8" textLength="81.5" lengthAdjust="spacingAndGlyphs">PAHO</text>
<text x="448" y="746.7" font-size="10" textLength="11.5" lengthAdjust="spacingAndGlyphs">th</text>
</g>

<g font-family="'Liberation Sans', sans-serif">
<text x="283.1" y="98" font-size="21" font-weight="bold" fill="#111" textLength="61.1" lengthAdjust="spacingAndGlyphs" >Figure</text>
<text x="349.4" y="98" font-size="21" font-weight="bold" fill="#111" textLength="19.8" lengthAdjust="spacingAndGlyphs" >4.</text>
<text x="374.8" y="98" font-size="21" font-weight="normal" fill="#111" textLength="46.4" lengthAdjust="spacingAndGlyphs" >New</text>
<text x="426.3" y="98" font-size="21" font-weight="normal" fill="#111" textLength="105.5" lengthAdjust="spacingAndGlyphs" >suspected</text>
<text x="536.8" y="98" font-size="21" font-weight="normal" fill="#111" textLength="79.4" lengthAdjust="spacingAndGlyphs" >cholera</text>
<text x="621.8" y="98" font-size="21" font-weight="normal" fill="#111" textLength="56.4" lengthAdjust="spacingAndGlyphs" >cases</text>
<text x="683.8" y="98" font-size="21" font-weight="normal" fill="#111" textLength="16.4" lengthAdjust="spacingAndGlyphs" >in</text>
<text x="708.8" y="98" font-size="21" font-weight="normal" fill="#111" textLength="47.4" lengthAdjust="spacingAndGlyphs" >Haiti</text>
<text x="764.8" y="98" font-size="21" font-weight="normal" fill="#111" textLength="83.4" lengthAdjust="spacingAndGlyphs" >reported</text>
<text x="853.8" y="98" font-size="21" font-weight="normal" fill="#111" textLength="16.4" lengthAdjust="spacingAndGlyphs" >in</text>
<text x="876.8" y="98" font-size="21" font-weight="normal" fill="#111" textLength="31.4" lengthAdjust="spacingAndGlyphs" >last</text>
<text x="914.8" y="98" font-size="21" font-weight="normal" fill="#111" textLength="165.4" lengthAdjust="spacingAndGlyphs" >epidemiological</text>
<text x="1087.8" y="98" font-size="21" font-weight="normal" fill="#111" textLength="54.4" lengthAdjust="spacingAndGlyphs" >week</text>
<text x="320.7" y="329.7" font-size="15.5" font-weight="normal" fill="#222" textLength="168" lengthAdjust="spacingAndGlyphs" >New Suspected Cholera</text>
<text x="320.7" y="349" font-size="15.5" font-weight="normal" fill="#222" textLength="40.5" lengthAdjust="spacingAndGlyphs" >Cases</text>
<text x="320.7" y="372" font-size="13.9" font-weight="normal" fill="#222" textLength="174" lengthAdjust="spacingAndGlyphs" >EW 01, 2023 - EW 02, 2023</text>
<rect x="321" y="381" width="23.5" height="10.8" fill="#fdebd3" stroke="#9a8f8a" stroke-width="0.7"/>
<text x="350.6" y="390.4" font-size="10.5" font-weight="normal" fill="#333" textLength="5" lengthAdjust="spacingAndGlyphs" >1</text>
<rect x="321" y="398.3" width="23.5" height="10.8" fill="#fdcb8b" stroke="#9a8f8a" stroke-width="0.7"/>
<text x="350.6" y="407.7" font-size="10.5" font-weight="normal" fill="#333" textLength="20.5" lengthAdjust="spacingAndGlyphs" >2 - 5</text>
<rect x="321" y="415.6" width="23.5" height="10.8" fill="#fb8c59" stroke="#9a8f8a" stroke-width="0.7"/>
<text x="350.6" y="425" font-size="10.5" font-weight="normal" fill="#333" textLength="26" lengthAdjust="spacingAndGlyphs" >6 - 25</text>
<rect x="321" y="432.9" width="23.5" height="10.8" fill="#e24a35" stroke="#9a8f8a" stroke-width="0.7"/>
<text x="350.6" y="442.3" font-size="10.5" font-weight="normal" fill="#333" textLength="31.5" lengthAdjust="spacingAndGlyphs" >26 - 50</text>
<rect x="321" y="450.2" width="23.5" height="10.8" fill="#b20000" stroke="#9a8f8a" stroke-width="0.7"/>
<text x="350.6" y="459.6" font-size="10.5" font-weight="normal" fill="#333" textLength="17" lengthAdjust="spacingAndGlyphs" >&gt;50</text>
<text x="478.6" y="741.3" font-size="8.7" font-weight="normal" fill="#707072" textLength="343" lengthAdjust="spacingAndGlyphs" >© Pan American Health Organization-World Health Organization 2023. All rights reserved.</text>
<text x="478.6" y="751.75" font-size="8.7" font-weight="normal" fill="#707072" textLength="707.4" lengthAdjust="spacingAndGlyphs" >The designations employed and the presentation of the material in these maps do not imply the expression of any opinion whatsoever on the part of the Secretariat of the Pan American</text>
<text x="478.6" y="762.2" font-size="8.7" font-weight="normal" fill="#707072" textLength="705.4" lengthAdjust="spacingAndGlyphs" >Health Organization concerning the legal status of any country, territory, city or area or of its authorities, or concerning the delimitation of its frontiers or boundaries. Dotted and dashed</text>
<text x="478.6" y="772.65" font-size="8.7" font-weight="normal" fill="#707072" textLength="370.5" lengthAdjust="spacingAndGlyphs" >lines on maps represent approximate border lines for which there may not yet be full agreement.</text>
<text x="478.6" y="783.1" font-size="8.7" font-weight="normal" fill="#707072" textLength="349" lengthAdjust="spacingAndGlyphs" >Data Source - Ministère de la Santé Publique et de la Population (MSPP), Republique d'Haiti</text>
<text x="478.6" y="793.55" font-size="8.7" font-weight="normal" fill="#707072" textLength="62.3" lengthAdjust="spacingAndGlyphs" >Map production:</text>
<text x="478.6" y="804" font-size="8.7" font-weight="normal" fill="#707072" textLength="173.4" lengthAdjust="spacingAndGlyphs" >PAHO Health Emergencies Department (PHE)</text>
</g>
<g font-family="'Liberation Sans', sans-serif" font-size="8.2">
<text x="844.4" y="201.6" textLength="53.6" lengthAdjust="spacingAndGlyphs" fill="#1a0a0a" fill-opacity="0.72" stroke="#1a0a0a" stroke-opacity="0.35" stroke-width="0.25">Saint Louis du</text>
<text x="862" y="211.9" textLength="18" lengthAdjust="spacingAndGlyphs" fill="#1a0a0a" fill-opacity="0.72" stroke="#1a0a0a" stroke-opacity="0.35" stroke-width="0.25">Nord</text>
<text x="792" y="218.75" textLength="44" lengthAdjust="spacingAndGlyphs" fill="#1a0a0a" fill-opacity="0.72" stroke="#1a0a0a" stroke-opacity="0.35" stroke-width="0.25">Port-de-Paix</text>
<text x="868" y="218.75" textLength="50.75" lengthAdjust="spacingAndGlyphs" fill="#1a0a0a" fill-opacity="0.72" stroke="#1a0a0a" stroke-opacity="0.35" stroke-width="0.25">Anse-a-Foleur</text>
<text x="744.5" y="235.2" textLength="37.5" lengthAdjust="spacingAndGlyphs" fill="#8a8a8a">Nord-Ouest</text>
<text x="850.5" y="260.2" textLength="44" lengthAdjust="spacingAndGlyphs" fill="#1a0a0a" fill-opacity="0.72" stroke="#1a0a0a" stroke-opacity="0.35" stroke-width="0.25">Gros Morne</text>
<text x="877" y="316.6" textLength="33.5" lengthAdjust="spacingAndGlyphs" fill="#1a0a0a" fill-opacity="0.72" stroke="#1a0a0a" stroke-opacity="0.35" stroke-width="0.25">Gonaives</text>
<text x="948.75" y="348.2" textLength="45" lengthAdjust="spacingAndGlyphs" fill="#1a0a0a" fill-opacity="0.72" stroke="#1a0a0a" stroke-opacity="0.35" stroke-width="0.25">Saint-Michel</text>
<text x="948.75" y="357.7" textLength="45" lengthAdjust="spacingAndGlyphs" fill="#1a0a0a" fill-opacity="0.72" stroke="#1a0a0a" stroke-opacity="0.35" stroke-width="0.25">de l'Attalaye</text>
<text x="908.75" y="366.5" textLength="31.25" lengthAdjust="spacingAndGlyphs" fill="#8a8a8a">Artibonite</text>
<text x="913.5" y="444" textLength="34" lengthAdjust="spacingAndGlyphs" fill="#1a0a0a" fill-opacity="0.72" stroke="#1a0a0a" stroke-opacity="0.35" stroke-width="0.25">Verrettes</text>
<text x="992.5" y="279.5" textLength="15.5" lengthAdjust="spacingAndGlyphs" fill="#8a8a8a">Nord</text>
<text x="1077.5" y="316" textLength="28" lengthAdjust="spacingAndGlyphs" fill="#8a8a8a">Nord-Est</text>
<text x="1058.75" y="441.5" textLength="20" lengthAdjust="spacingAndGlyphs" fill="#8a8a8a">Centre</text>
<text x="904.5" y="482.5" textLength="31.5" lengthAdjust="spacingAndGlyphs" fill="#1a0a0a" fill-opacity="0.72" stroke="#1a0a0a" stroke-opacity="0.35" stroke-width="0.25">Arcahaie</text>
<text x="941.75" y="512.7" textLength="30" lengthAdjust="spacingAndGlyphs" fill="#1a0a0a" fill-opacity="0.72" stroke="#1a0a0a" stroke-opacity="0.35" stroke-width="0.25">Cabaret</text>
<text x="1023" y="508.8" textLength="37" lengthAdjust="spacingAndGlyphs" fill="#1a0a0a" fill-opacity="0.72" stroke="#1a0a0a" stroke-opacity="0.35" stroke-width="0.25">Mirebalais</text>
<text x="970.75" y="572.2" textLength="25.25" lengthAdjust="spacingAndGlyphs" fill="#1a0a0a" fill-opacity="0.72" stroke="#1a0a0a" stroke-opacity="0.35" stroke-width="0.25">Delmas</text>
<text x="1002" y="578.7" textLength="18" lengthAdjust="spacingAndGlyphs" fill="#8a8a8a">Ouest</text>
<text x="940.75" y="644.7" textLength="23.75" lengthAdjust="spacingAndGlyphs" fill="#8a8a8a">Sud-Est</text>
<text x="455" y="587.7" textLength="38.75" lengthAdjust="spacingAndGlyphs" fill="#8a8a8a">Grand Anse</text>
<text x="585" y="646.5" textLength="12" lengthAdjust="spacingAndGlyphs" fill="#8a8a8a">Sud</text>
<text x="678" y="595.7" textLength="47" lengthAdjust="spacingAndGlyphs" fill="#1a0a0a" fill-opacity="0.72" stroke="#1a0a0a" stroke-opacity="0.35" stroke-width="0.25">Anse-a-Veau</text>
<text x="674.5" y="609.7" textLength="21.5" lengthAdjust="spacingAndGlyphs" fill="#8a8a8a">Nippes</text>
<text x="790" y="620.7" textLength="42.5" lengthAdjust="spacingAndGlyphs" fill="#1a0a0a" fill-opacity="0.72" stroke="#1a0a0a" stroke-opacity="0.35" stroke-width="0.25">Petit-Goave</text>
<text x="722.5" y="646.5" textLength="21.25" lengthAdjust="spacingAndGlyphs" fill="#1a0a0a" fill-opacity="0.72" stroke="#1a0a0a" stroke-opacity="0.35" stroke-width="0.25">Aquin</text>
</g>
<g fill="none" stroke="#333" stroke-width="1">
<rect x="968.8" y="796.8" width="158.8" height="8"/>
<line x1="988.65" y1="796.8" x2="988.65" y2="805"/>
<line x1="1008.5" y1="796.8" x2="1008.5" y2="805"/>
<line x1="1028.35" y1="796.8" x2="1028.35" y2="805"/>
<line x1="1048.2" y1="796.8" x2="1048.2" y2="805"/>
<line x1="1068.05" y1="796.8" x2="1068.05" y2="805"/>
<line x1="1087.9" y1="796.8" x2="1087.9" y2="805"/>
<line x1="1107.75" y1="796.8" x2="1107.75" y2="805"/>
</g>
</svg>
<div id="sidebar">
<svg width="125" height="756" viewBox="0 44 125 756" style="position:absolute;left:0;top:0">
<defs><clipPath id="t3"><rect x="0" y="419.4" width="39.8" height="48.1"/></clipPath><clipPath id="t4"><rect x="0" y="549.6" width="39.6" height="49"/></clipPath></defs>
<g opacity="0.5">
<rect x="0" y="63" width="49" height="120" fill="#fff"/>
<rect x="13" y="72.2" width="30" height="1.3" fill="#4a90d0"/><rect x="35.5" y="75.2" width="7.5" height="1.3" fill="#4a90d0"/><rect x="26" y="79" width="17" height="1" fill="#4a90d0"/>
<rect x="0" y="64.5" width="1.2" height="4" fill="#2a8ad0"/>
<rect x="0" y="83" width="45.5" height="0.9" fill="#3f78c0"/>
<rect x="0" y="86" width="6" height="0.9" fill="#4a90d0"/>
<rect x="0" y="91.5" width="41" height="0.9" fill="#bdbdbd"/><rect x="0" y="93.5" width="41" height="0.9" fill="#bdbdbd"/><rect x="0" y="95.5" width="41" height="0.9" fill="#bdbdbd"/><rect x="0" y="97.5" width="41" height="0.9" fill="#bdbdbd"/><rect x="0" y="99.5" width="41" height="0.9" fill="#bdbdbd"/><rect x="0" y="101.5" width="41" height="0.9" fill="#bdbdbd"/><rect x="0" y="103.5" width="18" height="0.9" fill="#bdbdbd"/>
<rect x="0" y="107" width="41" height="0.8" fill="#bdbdbd"/><rect x="0" y="109" width="15" height="0.8" fill="#bdbdbd"/>
<rect x="0" y="112" width="41" height="0.7" fill="#bdbdbd"/>
<polygon points="0,120.5 2,121 3,119.5 4.5,121 5.5,124 7,122 8.5,125 10,124 11,127.5 12.5,126 14,129.5 16,131 18,132.5 20,134 22,133 24,134.5 26,133.5 28,135 30,133.5 32,135 34,134 36,136 38,137.5 40,141 40,148 0,148" fill="#4f9ad8"/>
<polyline points="11,129 20,125 30,121.5 40,118" fill="none" stroke="#e0a070" stroke-width="0.5"/>
<rect x="41" y="118" width="0.5" height="30" fill="#c0c0c0"/><rect x="0" y="148" width="41.5" height="0.5" fill="#c0c0c0"/>
<rect x="4" y="150.5" width="30" height="0.6" fill="#cccccc"/>
<rect x="0" y="155" width="39" height="0.7" fill="#c0c0c0"/>
<rect x="0" y="165" width="41" height="0.8" fill="#b5b5b5"/>
<rect x="0" y="168.6" width="6" height="0.8" fill="#b5b5b5"/><rect x="6.5" y="168.6" width="11.5" height="1" fill="#2020d0"/><rect x="20" y="168.6" width="13" height="1" fill="#2020d0"/>
<rect x="0" y="172" width="41" height="0.8" fill="#b5b5b5"/><rect x="0" y="174.5" width="22" height="0.8" fill="#b5b5b5"/>
<rect x="0" y="178" width="11.5" height="1" fill="#2020d0"/><rect x="13" y="178" width="12" height="0.7" fill="#c0c0c0"/>
</g>
<g opacity="0.5">
<rect x="0" y="221.5" width="49" height="119.5" fill="#fff"/>
<rect x="0" y="229.5" width="41" height="0.9" fill="#bdbdbd"/><rect x="0" y="231.5" width="41" height="0.9" fill="#bdbdbd"/><rect x="0" y="233.5" width="17" height="0.9" fill="#bdbdbd"/>
<rect x="0" y="237" width="41" height="0.8" fill="#b5b5b5"/>
<rect x="0" y="247" width="40" height="0.35" fill="#bbb"/><rect x="0" y="250.8" width="40" height="0.35" fill="#bbb"/><rect x="0" y="254.6" width="40" height="0.35" fill="#bbb"/><rect x="0" y="258.4" width="40" height="0.35" fill="#bbb"/><rect x="0" y="262.2" width="40" height="0.35" fill="#bbb"/><rect x="0" y="266" width="40" height="0.35" fill="#bbb"/><rect x="20" y="243" width="4" height="1.2" fill="#8899aa"/><rect x="29" y="243" width="4" height="1.2" fill="#8899aa"/><rect x="1" y="264.8" width="3.4" height="5" fill="#9fb4e0"/><rect x="1" y="268" width="3.4" height="1.8" fill="#f5b588"/><rect x="5.95" y="253.8" width="3.4" height="16" fill="#9fb4e0"/><rect x="5.95" y="264.04" width="3.4" height="5.76" fill="#f5b588"/><rect x="10.9" y="254.8" width="3.4" height="15" fill="#9fb4e0"/><rect x="10.9" y="264.4" width="3.4" height="5.4" fill="#f5b588"/><rect x="15.85" y="259.8" width="3.4" height="10" fill="#9fb4e0"/><rect x="15.85" y="266.2" width="3.4" height="3.6" fill="#f5b588"/><rect x="20.8" y="262.8" width="3.4" height="7" fill="#9fb4e0"/><rect x="20.8" y="267.28" width="3.4" height="2.52" fill="#f5b588"/><rect x="25.75" y="264.8" width="3.4" height="5" fill="#9fb4e0"/><rect x="25.75" y="268" width="3.4" height="1.8" fill="#f5b588"/><rect x="30.7" y="267.8" width="3.4" height="2" fill="#9fb4e0"/><rect x="30.7" y="269.08" width="3.4" height="0.72" fill="#f5b588"/><rect x="35.65" y="268.8" width="3.4" height="1" fill="#9fb4e0"/><rect x="35.65" y="269.44" width="3.4" height="0.36" fill="#f5b588"/><rect x="0" y="269.8" width="40" height="0.5" fill="#c0c0c0"/><rect x="1" y="271.6" width="38" height="0.6" fill="#cccccc"/><rect x="1" y="273.1" width="38" height="0.6" fill="#aaa"/><rect x="2" y="275.8" width="37" height="0.6" fill="#cccccc"/>
<rect x="0" y="279.5" width="41" height="0.9" fill="#bdbdbd"/><rect x="0" y="281.5" width="41" height="0.9" fill="#bdbdbd"/>
<rect x="0" y="287" width="41" height="0.8" fill="#b5b5b5"/>
<rect x="0" y="297" width="40" height="0.35" fill="#bbb"/><rect x="0" y="301.067" width="40" height="0.35" fill="#bbb"/><rect x="0" y="305.133" width="40" height="0.35" fill="#bbb"/><rect x="0" y="309.2" width="40" height="0.35" fill="#bbb"/><rect x="0" y="313.267" width="40" height="0.35" fill="#bbb"/><rect x="0" y="317.333" width="40" height="0.35" fill="#bbb"/><rect x="20" y="293" width="4" height="1.2" fill="#8899aa"/><rect x="29" y="293" width="4" height="1.2" fill="#8899aa"/><rect x="1" y="316.4" width="3.4" height="5" fill="#9fb4e0"/><rect x="1" y="319.6" width="3.4" height="1.8" fill="#f5b588"/><rect x="5.95" y="304.4" width="3.4" height="17" fill="#9fb4e0"/><rect x="5.95" y="315.28" width="3.4" height="6.12" fill="#f5b588"/><rect x="10.9" y="304.4" width="3.4" height="17" fill="#9fb4e0"/><rect x="10.9" y="315.28" width="3.4" height="6.12" fill="#f5b588"/><rect x="15.85" y="309.4" width="3.4" height="12" fill="#9fb4e0"/><rect x="15.85" y="317.08" width="3.4" height="4.32" fill="#f5b588"/><rect x="20.8" y="313.4" width="3.4" height="8" fill="#9fb4e0"/><rect x="20.8" y="318.52" width="3.4" height="2.88" fill="#f5b588"/><rect x="25.75" y="316.4" width="3.4" height="5" fill="#9fb4e0"/><rect x="25.75" y="319.6" width="3.4" height="1.8" fill="#f5b588"/><rect x="30.7" y="319.4" width="3.4" height="2" fill="#9fb4e0"/><rect x="30.7" y="320.68" width="3.4" height="0.72" fill="#f5b588"/><rect x="35.65" y="320.4" width="3.4" height="1" fill="#9fb4e0"/><rect x="35.65" y="321.04" width="3.4" height="0.36" fill="#f5b588"/><rect x="0" y="321.4" width="40" height="0.5" fill="#c0c0c0"/><rect x="1" y="323.2" width="38" height="0.6" fill="#cccccc"/><rect x="1" y="324.7" width="38" height="0.6" fill="#aaa"/><rect x="2" y="327.4" width="37" height="0.6" fill="#cccccc"/>
<rect x="7" y="333.5" width="1.5" height="0.6" fill="#c0c0c0"/>
<rect x="0" y="335.8" width="14.5" height="1" fill="#2020d0"/><rect x="16" y="335.8" width="12" height="0.6" fill="#c0c0c0"/>
</g>
<rect x="-2" y="374.5" width="55.5" height="129.5" fill="#8ab4f8"/>
<rect x="0" y="379" width="48.5" height="120" fill="#fff"/>
<rect x="0" y="387" width="41" height="0.9" fill="#777777"/><rect x="0" y="389" width="41" height="0.9" fill="#777777"/><rect x="0" y="391" width="41" height="0.9" fill="#777777"/><rect x="0" y="393" width="41" height="0.9" fill="#777777"/><rect x="0" y="395" width="41" height="0.9" fill="#777777"/><rect x="0" y="397" width="32" height="0.9" fill="#777777"/>
<rect x="0" y="400.5" width="41" height="0.9" fill="#777777"/><rect x="0" y="402.5" width="41" height="0.9" fill="#777777"/><rect x="0" y="404.5" width="41" height="0.9" fill="#777777"/><rect x="0" y="406.5" width="41" height="0.9" fill="#777777"/><rect x="0" y="408.5" width="41" height="0.9" fill="#777777"/><rect x="0" y="410.5" width="41" height="0.9" fill="#777777"/><rect x="0" y="412.5" width="34" height="0.9" fill="#777777"/>
<rect x="0" y="416.3" width="33" height="0.8" fill="#555"/>
<rect x="-5" y="419.4" width="44.8" height="48.1" fill="#e8e8eb" stroke="#777" stroke-width="0.4"/>
<g clip-path="url(#t3)"><g transform="translate(-44.99 410.43) scale(0.0685 0.0683)"><use href="#mapcore"/></g></g>
<rect x="0" y="457.5" width="34" height="0.5" fill="#bbb"/><rect x="0" y="459" width="11" height="0.5" fill="#bbb"/><rect x="21" y="465" width="12" height="0.5" fill="#aaa"/>
<rect x="0" y="470.2" width="39" height="0.7" fill="#666"/>
<rect x="0" y="478.5" width="41" height="1" fill="#5a5a5a"/><rect x="0" y="480.5" width="41" height="1" fill="#5a5a5a"/><rect x="0" y="482.5" width="41" height="1" fill="#5a5a5a"/><rect x="0" y="484.5" width="41" height="1" fill="#5a5a5a"/><rect x="0" y="486.5" width="41" height="1" fill="#5a5a5a"/><rect x="0" y="488.5" width="10" height="1" fill="#5a5a5a"/>
<rect x="3" y="493.5" width="1.2" height="0.6" fill="#666"/>
<rect x="0" y="495.5" width="14.5" height="1" fill="#2020d0"/><rect x="16" y="495.5" width="12" height="0.6" fill="#888"/>
<g opacity="0.5">
<rect x="0" y="538" width="49" height="119" fill="#fff"/>
<rect x="0" y="545" width="41" height="0.9" fill="#bdbdbd"/><rect x="0" y="547" width="12" height="0.9" fill="#bdbdbd"/>
<rect x="-5" y="549.6" width="44.6" height="49" fill="#e8e8eb" stroke="#777" stroke-width="0.4"/>
<g clip-path="url(#t4)"><g transform="translate(-44.99 540.6) scale(0.0685 0.0683)"><use href="#landcore"/>
<polygon points="790,205 860,195 900,210 930,260 955,300 975,330 990,360 960,390 920,370 880,340 850,310 800,270 780,240" fill="#d98f2a"/>
<polygon points="862,198 895,200 900,215 880,222 865,212" fill="#c43a2a"/>
<polygon points="940,262 965,255 968,285 950,296" fill="#d8d23a"/>
<polygon points="850,380 900,385 950,400 1000,410 1040,440 1075,470 1060,510 1020,530 1000,560 1035,585 1040,600 990,612 965,600 975,560 960,530 920,500 880,470 850,440" fill="#3f8f2f"/>
<polygon points="930,430 980,420 1010,450 990,480 950,470" fill="#8fc04a"/><polygon points="1010,470 1050,480 1040,505 1015,500" fill="#d8d23a"/>
<polygon points="398,588 420,555 500,558 530,565 511,616 460,616 430,600" fill="#d98f2a"/><polygon points="620,648 680,631 750,627 790,665 700,664 640,660" fill="#d98f2a"/>
<polygon points="455,545 500,558 495,590 470,616 455,597" fill="#3f8f2f"/><polygon points="671,583 722,593 720,613 695,602" fill="#d8d23a"/>
</g></g>
<rect x="0" y="600.5" width="39" height="0.7" fill="#b5b5b5"/>
<rect x="0" y="604.5" width="41" height="1" fill="#9a9a9a"/><rect x="0" y="606.5" width="41" height="1" fill="#9a9a9a"/><rect x="0" y="608.5" width="41" height="1" fill="#9a9a9a"/><rect x="0" y="610.5" width="41" height="1" fill="#9a9a9a"/><rect x="0" y="612.5" width="41" height="1" fill="#9a9a9a"/><rect x="0" y="614.5" width="41" height="1" fill="#9a9a9a"/><rect x="0" y="616.5" width="41" height="1" fill="#9a9a9a"/><rect x="0" y="618.5" width="41" height="1" fill="#9a9a9a"/><rect x="0" y="620.5" width="41" height="1" fill="#9a9a9a"/>
<rect x="0" y="625.5" width="41" height="0.9" fill="#bdbdbd"/><rect x="0" y="627.5" width="41" height="0.9" fill="#bdbdbd"/><rect x="0" y="629.5" width="41" height="0.9" fill="#bdbdbd"/>
<rect x="0" y="635.5" width="41" height="1" fill="#9a9a9a"/><rect x="0" y="637.5" width="41" height="1" fill="#9a9a9a"/><rect x="0" y="639.5" width="41" height="1" fill="#9a9a9a"/><rect x="0" y="641.5" width="41" height="1" fill="#9a9a9a"/><rect x="0" y="643.5" width="41" height="1" fill="#9a9a9a"/>
<rect x="7" y="650" width="1.5" height="0.6" fill="#c0c0c0"/>
<rect x="0" y="652.3" width="14.5" height="1.1" fill="#2020d0"/><rect x="16" y="652.3" width="12" height="0.6" fill="#c0c0c0"/>
</g>
<g opacity="0.5">
<rect x="0" y="695.4" width="49" height="120" fill="#fff"/>
<rect x="0" y="703.3" width="41" height="0.8" fill="#b5b5b5"/><rect x="0" y="705.8" width="1.2" height="0.9" fill="#2020d0"/>
<rect x="0" y="709.5" width="41" height="0.9" fill="#bdbdbd"/><rect x="0" y="711.5" width="41" height="0.9" fill="#bdbdbd"/><rect x="0" y="713.5" width="41" height="0.9" fill="#bdbdbd"/>
<rect x="0" y="720.7" width="9" height="1" fill="#3f78c0"/>
<rect x="0" y="726.3" width="41" height="0.9" fill="#aaaaaa"/><rect x="0" y="728.3" width="41" height="0.9" fill="#aaaaaa"/><rect x="0" y="730.3" width="41" height="0.9" fill="#aaaaaa"/><rect x="0" y="732.3" width="41" height="0.9" fill="#aaaaaa"/><rect x="0" y="734.3" width="1.5" height="0.9" fill="#aaaaaa"/>
<rect x="0" y="737.8" width="41" height="1" fill="#9a9a9a"/><rect x="0" y="739.8" width="41" height="1" fill="#9a9a9a"/><rect x="0" y="741.8" width="41" height="1" fill="#9a9a9a"/>
<rect x="0" y="746.5" width="41" height="0.9" fill="#bdbdbd"/><rect x="0" y="748.5" width="41" height="0.9" fill="#bdbdbd"/><rect x="0" y="750.5" width="6" height="0.9" fill="#bdbdbd"/>
</g>
<text x="3.6" y="200" font-family="'Liberation Sans', sans-serif" font-size="11.5" fill="#fff">1</text>
<text x="3.6" y="358" font-family="'Liberation Sans', sans-serif" font-size="11.5" fill="#fff">2</text>
<text x="3.6" y="516" font-family="'Liberation Sans', sans-serif" font-size="11.5" fill="#fff">3</text>
<text x="3.6" y="674" font-family="'Liberation Sans', sans-serif" font-size="11.5" fill="#fff">4</text>
</svg>
</div>
<div id="gutter"></div>
<div id="toolbar">
  <div class="title">2023-january-17-phe-update-cholera_0.pdf</div>
  <div class="box" style="left:485px;top:14px;width:19px;height:15px;">3</div>
  <div class="tb" style="left:507px;top:14px;">/</div>
  <div class="tb" style="left:517px;top:14px;">6</div>
  <div class="sep" style="left:542px"></div>
  <div style="position:absolute;left:555px;top:21px;width:10px;height:2px;background:#f1f3f4"></div>
  <div class="box" style="left:578px;top:14px;width:35px;height:15px;">200%</div>
  <div style="position:absolute;left:626px;top:21px;width:10px;height:2px;background:#f1f3f4"></div>
  <div style="position:absolute;left:630px;top:17px;width:2px;height:10px;background:#f1f3f4"></div>
  <div class="sep" style="left:648px"></div>
  <svg style="position:absolute;left:662px;top:11px" width="22" height="22" viewBox="0 0 22 22">
    <rect x="4" y="6" width="13.6" height="10.6" rx="1" fill="none" stroke="#f1f3f4" stroke-width="1.6"/>
    <path d="M10.8 7.7 L13 10.4 H8.6 Z M10.8 14.9 L13 12.2 H8.6 Z" fill="#f1f3f4"/>
  </svg>
  <svg style="position:absolute;left:691px;top:11px" width="22" height="22" viewBox="0 0 22 22">
    <path d="M10.6 5.2 A6 6 0 1 1 8.2 16.2" fill="none" stroke="#f1f3f4" stroke-width="1.5"/>
    <path d="M11.2 2.6 L8 5.4 L11.2 8 Z" fill="#f1f3f4"/>
    <rect x="-2.4" y="-2.4" width="4.8" height="4.8" transform="translate(7.2 11.2) rotate(45)" fill="none" stroke="#f1f3f4" stroke-width="1.5"/>
  </svg>
  <svg style="position:absolute;left:1181.3px;top:13.2px" width="17.6" height="17.6" viewBox="0 0 20 20">
    <path d="M3.2 13.6 L3 17 L6.4 16.8 L14 9.2 L10.8 6 Z M11.8 5 L15 8.2 L16.4 6.8 Q17 6.2 16.4 5.6 L14.4 3.6 Q13.8 3 13.2 3.6 Z" fill="#f1f3f4"/>
  </svg>
</div>
</body>
</html>
